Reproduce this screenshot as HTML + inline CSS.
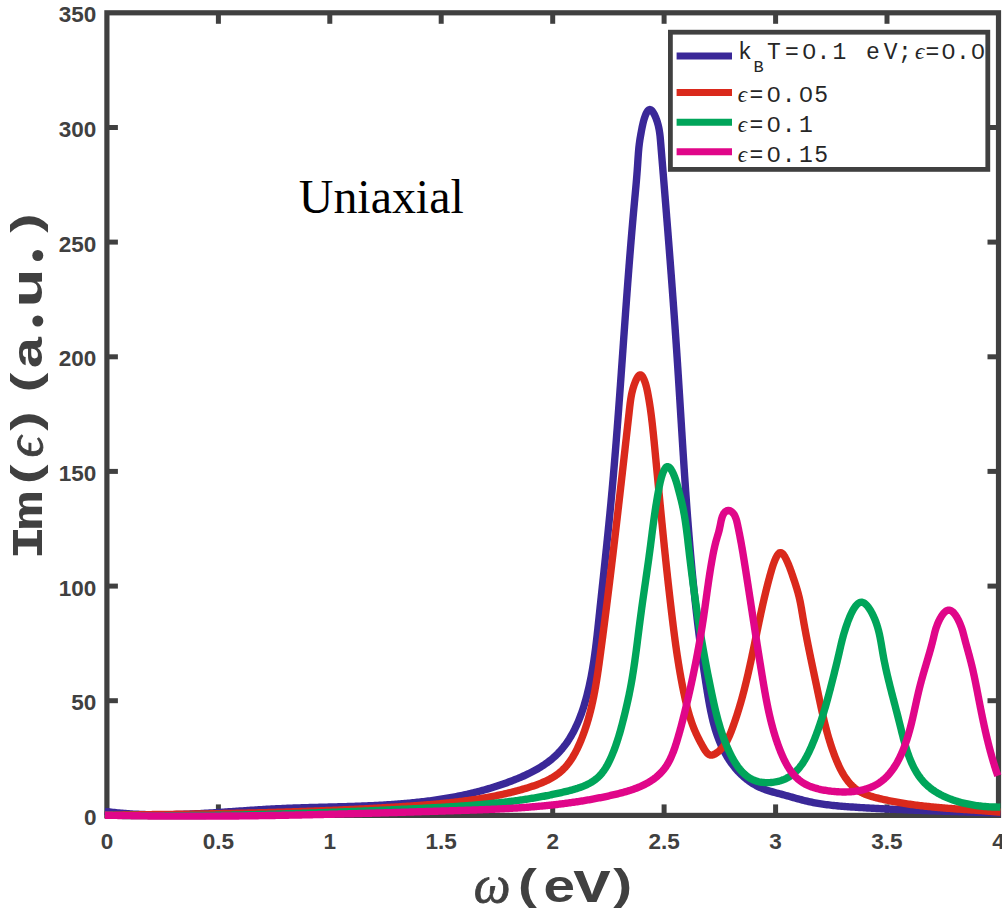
<!DOCTYPE html>
<html><head><meta charset="utf-8"><title>Uniaxial</title>
<style>
html,body{margin:0;padding:0;background:#fff;}
body{width:1002px;height:916px;overflow:hidden;}
svg{display:block;}
.tk{font-family:"Liberation Sans",sans-serif;font-weight:bold;font-size:22.5px;fill:#404040;}
.lb{font-family:"Liberation Mono",monospace;font-weight:bold;font-size:45.5px;fill:#404040;}
.lg{font-family:"Liberation Mono",monospace;font-size:23px;fill:#262626;}
.ep{font-family:"Liberation Serif",serif;font-style:italic;}
</style></head><body>
<svg width="1002" height="916" viewBox="0 0 1002 916">
<rect x="0" y="0" width="1002" height="916" fill="#ffffff"/>

<g stroke="#404040" stroke-width="5.0" fill="none" stroke-linecap="butt">
<rect x="106.9" y="12.8" width="891.6" height="802.6" stroke-width="5.2"/>
<line x1="218.4" y1="815.4" x2="218.4" y2="804.4"/>
<line x1="218.4" y1="12.8" x2="218.4" y2="23.8"/>
<line x1="329.8" y1="815.4" x2="329.8" y2="804.4"/>
<line x1="329.8" y1="12.8" x2="329.8" y2="23.8"/>
<line x1="441.2" y1="815.4" x2="441.2" y2="804.4"/>
<line x1="441.2" y1="12.8" x2="441.2" y2="23.8"/>
<line x1="552.7" y1="815.4" x2="552.7" y2="804.4"/>
<line x1="552.7" y1="12.8" x2="552.7" y2="23.8"/>
<line x1="664.1" y1="815.4" x2="664.1" y2="804.4"/>
<line x1="664.1" y1="12.8" x2="664.1" y2="23.8"/>
<line x1="775.6" y1="815.4" x2="775.6" y2="804.4"/>
<line x1="775.6" y1="12.8" x2="775.6" y2="23.8"/>
<line x1="887.0" y1="815.4" x2="887.0" y2="804.4"/>
<line x1="887.0" y1="12.8" x2="887.0" y2="23.8"/>
<line x1="106.9" y1="700.7" x2="117.9" y2="700.7"/>
<line x1="998.5" y1="700.7" x2="987.5" y2="700.7"/>
<line x1="106.9" y1="586.1" x2="117.9" y2="586.1"/>
<line x1="998.5" y1="586.1" x2="987.5" y2="586.1"/>
<line x1="106.9" y1="471.4" x2="117.9" y2="471.4"/>
<line x1="998.5" y1="471.4" x2="987.5" y2="471.4"/>
<line x1="106.9" y1="356.8" x2="117.9" y2="356.8"/>
<line x1="998.5" y1="356.8" x2="987.5" y2="356.8"/>
<line x1="106.9" y1="242.1" x2="117.9" y2="242.1"/>
<line x1="998.5" y1="242.1" x2="987.5" y2="242.1"/>
<line x1="106.9" y1="127.5" x2="117.9" y2="127.5"/>
<line x1="998.5" y1="127.5" x2="987.5" y2="127.5"/>
</g>
<g fill="none" stroke-width="7.4" stroke-linejoin="round" stroke-linecap="butt">
<path stroke="#3a2898" d="M104.74 811.37 L106.34 811.58 L107.94 811.79 L109.54 811.98 L111.14 812.17 L112.73 812.35 L114.33 812.53 L115.93 812.69 L117.53 812.85 L119.12 813.00 L120.72 813.15 L122.32 813.29 L123.91 813.42 L125.50 813.54 L127.10 813.66 L128.69 813.77 L130.29 813.88 L131.88 813.97 L133.47 814.07 L135.06 814.15 L136.66 814.23 L138.25 814.31 L139.84 814.38 L141.43 814.44 L143.02 814.50 L144.61 814.55 L146.20 814.59 L147.79 814.63 L149.37 814.67 L150.96 814.70 L152.55 814.72 L154.14 814.74 L155.73 814.76 L157.31 814.77 L158.90 814.77 L160.49 814.77 L162.07 814.77 L163.66 814.76 L165.24 814.75 L166.83 814.73 L168.41 814.71 L170.00 814.69 L171.58 814.66 L173.17 814.63 L174.75 814.59 L176.34 814.55 L177.92 814.51 L179.51 814.46 L181.09 814.41 L182.67 814.36 L184.26 814.30 L185.84 814.24 L187.42 814.18 L189.00 814.11 L190.59 814.04 L192.17 813.97 L193.75 813.90 L195.34 813.82 L196.92 813.74 L198.50 813.66 L200.08 813.57 L201.66 813.49 L203.25 813.40 L204.83 813.31 L206.41 813.22 L207.99 813.13 L209.57 813.03 L211.16 812.93 L212.74 812.84 L214.32 812.74 L215.90 812.64 L217.48 812.53 L219.07 812.43 L220.65 812.33 L222.23 812.22 L223.81 812.12 L225.40 812.01 L226.98 811.90 L228.56 811.80 L230.14 811.69 L231.73 811.58 L233.31 811.47 L234.89 811.36 L236.47 811.25 L238.06 811.14 L239.64 811.04 L241.22 810.93 L242.81 810.82 L244.39 810.71 L245.98 810.61 L247.56 810.50 L249.14 810.39 L250.73 810.29 L252.31 810.18 L253.90 810.08 L255.48 809.98 L257.07 809.88 L258.66 809.78 L260.24 809.68 L261.83 809.58 L263.41 809.49 L265.00 809.40 L266.59 809.31 L268.18 809.22 L269.76 809.13 L271.35 809.04 L272.94 808.96 L274.53 808.88 L276.12 808.80 L277.71 808.72 L279.30 808.65 L280.89 808.58 L282.48 808.51 L284.07 808.44 L285.66 808.37 L287.25 808.31 L288.84 808.25 L290.43 808.19 L292.03 808.13 L293.62 808.07 L295.21 808.01 L296.80 807.96 L298.40 807.91 L299.99 807.86 L301.58 807.81 L303.17 807.76 L304.77 807.71 L306.36 807.66 L307.95 807.61 L309.55 807.57 L311.14 807.53 L312.74 807.48 L314.33 807.44 L315.92 807.40 L317.52 807.35 L319.11 807.31 L320.70 807.27 L322.30 807.23 L323.89 807.19 L325.49 807.15 L327.08 807.11 L328.67 807.06 L330.27 807.02 L331.86 806.98 L333.45 806.94 L335.05 806.90 L336.64 806.85 L338.23 806.81 L339.82 806.77 L341.42 806.72 L343.01 806.68 L344.60 806.63 L346.19 806.59 L347.79 806.54 L349.38 806.49 L350.97 806.44 L352.56 806.39 L354.15 806.33 L355.74 806.28 L357.33 806.23 L358.92 806.17 L360.51 806.11 L362.10 806.05 L363.69 805.99 L365.28 805.92 L366.86 805.86 L368.45 805.79 L370.04 805.72 L371.63 805.65 L373.21 805.58 L374.80 805.50 L376.38 805.42 L377.97 805.34 L379.55 805.26 L381.14 805.17 L382.72 805.08 L384.30 804.99 L385.89 804.89 L387.47 804.80 L389.05 804.70 L390.63 804.59 L392.21 804.49 L393.79 804.38 L395.37 804.27 L396.95 804.15 L398.52 804.03 L400.10 803.91 L401.68 803.78 L403.25 803.65 L404.83 803.52 L406.40 803.38 L407.98 803.24 L409.55 803.09 L411.12 802.94 L412.69 802.79 L414.26 802.63 L415.84 802.47 L417.40 802.30 L418.97 802.13 L420.54 801.96 L422.11 801.78 L423.68 801.59 L425.24 801.40 L426.81 801.21 L428.37 801.01 L429.93 800.81 L431.50 800.60 L433.06 800.38 L434.62 800.16 L436.18 799.94 L437.74 799.71 L439.30 799.48 L440.86 799.23 L442.42 798.99 L443.97 798.74 L445.53 798.48 L447.08 798.22 L448.64 797.95 L450.19 797.67 L451.74 797.39 L453.29 797.11 L454.84 796.81 L456.39 796.51 L457.94 796.21 L459.49 795.90 L461.04 795.58 L462.58 795.25 L464.13 794.92 L465.67 794.58 L467.22 794.24 L468.76 793.89 L470.30 793.53 L471.84 793.16 L473.38 792.79 L474.92 792.41 L476.46 792.02 L477.99 791.63 L479.53 791.23 L481.06 790.82 L482.60 790.40 L484.13 789.98 L485.66 789.55 L487.19 789.11 L488.72 788.66 L490.25 788.20 L491.78 787.74 L493.31 787.27 L494.83 786.79 L496.36 786.30 L497.88 785.81 L499.40 785.30 L500.92 784.79 L502.44 784.27 L503.96 783.74 L505.48 783.20 L507.00 782.65 L508.51 782.10 L510.03 781.53 L511.54 780.96 L513.05 780.38 L514.56 779.78 L516.07 779.18 L517.57 778.57 L519.07 777.95 L520.57 777.31 L522.06 776.66 L523.54 776.01 L525.01 775.34 L526.48 774.65 L527.94 773.96 L529.39 773.25 L530.84 772.53 L532.27 771.79 L533.69 771.04 L535.10 770.27 L536.50 769.49 L537.88 768.69 L539.25 767.88 L540.61 767.05 L541.96 766.21 L543.28 765.35 L544.60 764.47 L545.89 763.57 L547.17 762.65 L548.43 761.72 L549.68 760.77 L550.90 759.80 L552.11 758.81 L553.29 757.80 L554.45 756.76 L555.59 755.71 L556.71 754.64 L557.81 753.55 L558.88 752.43 L559.94 751.30 L560.96 750.14 L561.97 748.97 L562.96 747.77 L563.92 746.56 L564.87 745.33 L565.79 744.08 L566.70 742.82 L567.58 741.54 L568.44 740.24 L569.29 738.93 L570.11 737.60 L570.92 736.25 L571.71 734.90 L572.48 733.53 L573.23 732.14 L573.97 730.74 L574.68 729.33 L575.38 727.91 L576.07 726.48 L576.74 725.03 L577.39 723.58 L578.02 722.12 L578.65 720.64 L579.25 719.16 L579.84 717.67 L580.42 716.17 L580.98 714.66 L581.53 713.15 L582.06 711.63 L582.58 710.10 L583.09 708.57 L583.59 707.03 L584.07 705.49 L584.54 703.94 L585.00 702.39 L585.45 700.84 L585.89 699.28 L586.31 697.72 L586.73 696.16 L587.13 694.60 L587.53 693.03 L587.91 691.47 L588.29 689.91 L588.66 688.34 L589.02 686.78 L589.36 685.21 L589.71 683.65 L590.04 682.09 L590.36 680.52 L590.68 678.96 L590.99 677.39 L591.29 675.83 L591.58 674.26 L591.87 672.70 L592.15 671.13 L592.42 669.57 L592.68 668.00 L592.94 666.44 L593.20 664.87 L593.45 663.30 L593.69 661.74 L593.92 660.17 L594.16 658.60 L594.38 657.04 L594.60 655.47 L594.82 653.90 L595.03 652.34 L595.24 650.77 L595.45 649.20 L595.65 647.63 L595.84 646.06 L596.04 644.49 L596.23 642.93 L596.41 641.36 L596.60 639.79 L596.78 638.22 L596.96 636.65 L597.14 635.08 L597.31 633.51 L597.48 631.94 L597.66 630.37 L597.83 628.80 L598.00 627.22 L598.16 625.65 L598.33 624.08 L598.50 622.51 L598.66 620.94 L598.83 619.36 L599.00 617.79 L599.17 616.22 L599.33 614.64 L599.50 613.07 L599.67 611.49 L599.84 609.92 L600.00 608.34 L600.17 606.77 L600.34 605.19 L600.51 603.62 L600.68 602.04 L600.85 600.47 L601.01 598.89 L601.18 597.31 L601.35 595.74 L601.52 594.16 L601.69 592.58 L601.86 591.00 L602.03 589.43 L602.20 587.85 L602.37 586.27 L602.54 584.69 L602.71 583.11 L602.87 581.53 L603.04 579.95 L603.21 578.37 L603.38 576.79 L603.55 575.21 L603.72 573.63 L603.89 572.05 L604.06 570.47 L604.22 568.89 L604.39 567.31 L604.56 565.73 L604.73 564.15 L604.89 562.57 L605.06 560.98 L605.23 559.40 L605.40 557.82 L605.56 556.24 L605.73 554.66 L605.89 553.07 L606.06 551.49 L606.22 549.91 L606.39 548.33 L606.55 546.74 L606.72 545.16 L606.88 543.58 L607.04 541.99 L607.21 540.41 L607.37 538.83 L607.53 537.24 L607.69 535.66 L607.85 534.08 L608.02 532.49 L608.18 530.91 L608.33 529.33 L608.49 527.74 L608.65 526.16 L608.81 524.57 L608.97 522.99 L609.12 521.41 L609.28 519.82 L609.44 518.24 L609.59 516.65 L609.75 515.07 L609.90 513.48 L610.05 511.90 L610.20 510.31 L610.36 508.73 L610.51 507.15 L610.66 505.56 L610.81 503.98 L610.96 502.39 L611.10 500.81 L611.25 499.22 L611.40 497.64 L611.54 496.05 L611.69 494.47 L611.83 492.89 L611.98 491.30 L612.12 489.72 L612.26 488.13 L612.40 486.55 L612.54 484.96 L612.68 483.38 L612.82 481.79 L612.96 480.21 L613.10 478.62 L613.24 477.04 L613.38 475.46 L613.51 473.87 L613.65 472.29 L613.78 470.70 L613.92 469.12 L614.05 467.53 L614.18 465.95 L614.32 464.36 L614.45 462.78 L614.58 461.19 L614.71 459.61 L614.84 458.03 L614.97 456.44 L615.10 454.86 L615.23 453.27 L615.36 451.69 L615.49 450.10 L615.62 448.52 L615.74 446.93 L615.87 445.35 L616.00 443.77 L616.12 442.18 L616.25 440.60 L616.37 439.01 L616.49 437.43 L616.62 435.84 L616.74 434.26 L616.87 432.67 L616.99 431.09 L617.11 429.51 L617.23 427.92 L617.35 426.34 L617.47 424.75 L617.59 423.17 L617.72 421.58 L617.84 420.00 L617.95 418.41 L618.07 416.83 L618.19 415.25 L618.31 413.66 L618.43 412.08 L618.55 410.49 L618.67 408.91 L618.78 407.32 L618.90 405.74 L619.02 404.15 L619.13 402.57 L619.25 400.99 L619.37 399.40 L619.48 397.82 L619.60 396.23 L619.71 394.65 L619.83 393.06 L619.94 391.48 L620.06 389.90 L620.17 388.31 L620.29 386.73 L620.40 385.14 L620.51 383.56 L620.63 381.97 L620.74 380.39 L620.86 378.81 L620.97 377.22 L621.08 375.64 L621.20 374.05 L621.31 372.47 L621.42 370.88 L621.53 369.30 L621.65 367.72 L621.76 366.13 L621.87 364.55 L621.98 362.96 L622.10 361.38 L622.21 359.79 L622.32 358.21 L622.43 356.63 L622.55 355.04 L622.66 353.46 L622.77 351.87 L622.88 350.29 L623.00 348.71 L623.11 347.12 L623.22 345.54 L623.33 343.95 L623.44 342.37 L623.56 340.79 L623.67 339.20 L623.78 337.62 L623.89 336.03 L624.01 334.45 L624.12 332.87 L624.23 331.28 L624.34 329.70 L624.46 328.11 L624.57 326.53 L624.68 324.95 L624.80 323.36 L624.91 321.78 L625.02 320.19 L625.14 318.61 L625.25 317.03 L625.37 315.44 L625.48 313.86 L625.59 312.27 L625.71 310.69 L625.82 309.11 L625.94 307.52 L626.05 305.94 L626.17 304.36 L626.29 302.77 L626.40 301.19 L626.52 299.60 L626.63 298.02 L626.75 296.44 L626.87 294.85 L626.99 293.27 L627.10 291.69 L627.22 290.10 L627.34 288.52 L627.46 286.93 L627.58 285.35 L627.70 283.77 L627.81 282.18 L627.93 280.60 L628.05 279.02 L628.17 277.43 L628.30 275.85 L628.42 274.27 L628.54 272.68 L628.66 271.10 L628.78 269.52 L628.91 267.93 L629.03 266.35 L629.15 264.77 L629.28 263.18 L629.40 261.60 L629.53 260.02 L629.65 258.43 L629.78 256.85 L629.90 255.27 L630.03 253.68 L630.16 252.10 L630.29 250.52 L630.41 248.93 L630.54 247.35 L630.67 245.77 L630.80 244.18 L630.93 242.60 L631.06 241.02 L631.19 239.43 L631.33 237.85 L631.46 236.27 L631.59 234.68 L631.72 233.10 L631.86 231.52 L631.99 229.93 L632.13 228.35 L632.27 226.77 L632.40 225.18 L632.54 223.60 L632.68 222.02 L632.82 220.44 L632.96 218.85 L633.09 217.27 L633.24 215.69 L633.38 214.10 L633.52 212.52 L633.66 210.94 L633.80 209.36 L633.95 207.77 L634.09 206.19 L634.24 204.61 L634.38 203.02 L634.53 201.44 L634.68 199.86 L634.82 198.27 L634.97 196.69 L635.12 195.11 L635.26 193.52 L635.41 191.94 L635.55 190.35 L635.70 188.76 L635.84 187.17 L635.98 185.58 L636.12 183.99 L636.26 182.40 L636.40 180.81 L636.53 179.21 L636.66 177.62 L636.79 176.02 L636.92 174.42 L637.04 172.81 L637.16 171.21 L637.28 169.60 L637.39 167.99 L637.50 166.38 L637.61 164.77 L637.72 163.16 L637.82 161.55 L637.92 159.94 L638.03 158.33 L638.14 156.73 L638.25 155.14 L638.37 153.56 L638.49 151.99 L638.62 150.44 L638.76 148.90 L638.91 147.37 L639.08 145.86 L639.25 144.37 L639.44 142.90 L639.64 141.45 L639.85 140.01 L640.08 138.56 L640.33 137.08 L640.60 135.57 L640.88 134.01 L641.18 132.38 L641.49 130.68 L641.83 128.89 L642.19 127.05 L642.59 125.17 L643.02 123.27 L643.49 121.37 L644.01 119.50 L644.58 117.66 L645.21 115.88 L645.89 114.22 L646.62 112.71 L647.39 111.43 L648.20 110.44 L649.04 109.80 L649.90 109.56 L650.78 109.78 L651.66 110.43 L652.53 111.43 L653.39 112.72 L654.21 114.22 L654.99 115.85 L655.72 117.56 L656.37 119.27 L656.96 120.96 L657.49 122.64 L657.96 124.30 L658.38 125.96 L658.74 127.59 L659.07 129.22 L659.35 130.84 L659.60 132.45 L659.81 134.06 L660.01 135.65 L660.18 137.25 L660.33 138.83 L660.47 140.42 L660.60 142.00 L660.73 143.59 L660.86 145.17 L660.99 146.75 L661.12 148.33 L661.25 149.92 L661.38 151.50 L661.51 153.08 L661.64 154.66 L661.77 156.25 L661.90 157.83 L662.03 159.41 L662.16 161.00 L662.29 162.58 L662.42 164.16 L662.55 165.75 L662.68 167.33 L662.81 168.91 L662.94 170.50 L663.07 172.08 L663.20 173.66 L663.33 175.25 L663.45 176.83 L663.58 178.41 L663.71 180.00 L663.84 181.58 L663.97 183.16 L664.10 184.75 L664.23 186.33 L664.36 187.91 L664.48 189.50 L664.61 191.08 L664.74 192.67 L664.87 194.25 L665.00 195.83 L665.13 197.42 L665.25 199.00 L665.38 200.59 L665.51 202.17 L665.64 203.75 L665.76 205.34 L665.89 206.92 L666.02 208.51 L666.15 210.09 L666.27 211.67 L666.40 213.26 L666.53 214.84 L666.65 216.43 L666.78 218.01 L666.91 219.60 L667.03 221.18 L667.16 222.76 L667.28 224.35 L667.41 225.93 L667.54 227.52 L667.66 229.10 L667.79 230.69 L667.91 232.27 L668.04 233.86 L668.16 235.44 L668.29 237.02 L668.41 238.61 L668.53 240.19 L668.66 241.78 L668.78 243.36 L668.91 244.95 L669.03 246.53 L669.15 248.12 L669.28 249.70 L669.40 251.29 L669.52 252.87 L669.65 254.46 L669.77 256.04 L669.89 257.63 L670.01 259.21 L670.14 260.80 L670.26 262.38 L670.38 263.97 L670.50 265.55 L670.62 267.14 L670.74 268.72 L670.86 270.31 L670.98 271.89 L671.10 273.48 L671.23 275.06 L671.35 276.65 L671.46 278.23 L671.58 279.82 L671.70 281.40 L671.82 282.99 L671.94 284.57 L672.06 286.16 L672.18 287.74 L672.30 289.33 L672.41 290.91 L672.53 292.50 L672.65 294.09 L672.77 295.67 L672.88 297.26 L673.00 298.84 L673.12 300.43 L673.23 302.01 L673.35 303.60 L673.46 305.18 L673.58 306.77 L673.69 308.35 L673.81 309.94 L673.92 311.52 L674.04 313.11 L674.15 314.70 L674.26 316.28 L674.38 317.87 L674.49 319.45 L674.60 321.04 L674.72 322.62 L674.83 324.21 L674.94 325.79 L675.05 327.38 L675.16 328.96 L675.27 330.55 L675.38 332.14 L675.49 333.72 L675.60 335.31 L675.71 336.89 L675.82 338.48 L675.93 340.06 L676.04 341.65 L676.15 343.23 L676.26 344.82 L676.36 346.41 L676.47 347.99 L676.58 349.58 L676.69 351.16 L676.79 352.75 L676.90 354.33 L677.00 355.92 L677.11 357.50 L677.21 359.09 L677.32 360.68 L677.42 362.26 L677.53 363.85 L677.63 365.43 L677.73 367.02 L677.84 368.60 L677.94 370.19 L678.04 371.77 L678.14 373.36 L678.25 374.95 L678.35 376.53 L678.45 378.12 L678.55 379.70 L678.65 381.29 L678.75 382.87 L678.85 384.46 L678.95 386.04 L679.05 387.63 L679.15 389.22 L679.25 390.80 L679.35 392.39 L679.45 393.97 L679.55 395.56 L679.65 397.14 L679.75 398.73 L679.85 400.31 L679.95 401.90 L680.05 403.49 L680.14 405.07 L680.24 406.66 L680.34 408.24 L680.44 409.83 L680.54 411.41 L680.64 413.00 L680.74 414.58 L680.83 416.17 L680.93 417.75 L681.03 419.34 L681.13 420.92 L681.23 422.51 L681.33 424.09 L681.43 425.68 L681.52 427.26 L681.62 428.85 L681.72 430.43 L681.82 432.02 L681.92 433.60 L682.02 435.19 L682.12 436.77 L682.22 438.36 L682.32 439.94 L682.42 441.53 L682.52 443.11 L682.62 444.70 L682.72 446.28 L682.82 447.87 L682.92 449.45 L683.02 451.04 L683.12 452.62 L683.22 454.21 L683.33 455.79 L683.43 457.38 L683.53 458.96 L683.63 460.55 L683.74 462.13 L683.84 463.72 L683.94 465.30 L684.05 466.89 L684.15 468.47 L684.26 470.05 L684.36 471.64 L684.47 473.22 L684.57 474.81 L684.68 476.39 L684.79 477.98 L684.89 479.56 L685.00 481.14 L685.11 482.73 L685.22 484.31 L685.33 485.90 L685.43 487.48 L685.54 489.06 L685.65 490.65 L685.77 492.23 L685.88 493.82 L685.99 495.40 L686.10 496.98 L686.21 498.57 L686.33 500.15 L686.44 501.74 L686.55 503.32 L686.67 504.90 L686.79 506.49 L686.90 508.07 L687.02 509.65 L687.14 511.24 L687.25 512.82 L687.37 514.40 L687.49 515.99 L687.61 517.57 L687.73 519.15 L687.85 520.74 L687.98 522.32 L688.10 523.90 L688.22 525.49 L688.35 527.07 L688.47 528.65 L688.60 530.23 L688.72 531.82 L688.85 533.40 L688.98 534.98 L689.11 536.56 L689.24 538.15 L689.37 539.73 L689.50 541.31 L689.63 542.89 L689.76 544.48 L689.90 546.06 L690.03 547.64 L690.17 549.22 L690.30 550.81 L690.44 552.39 L690.58 553.97 L690.72 555.55 L690.86 557.13 L691.00 558.72 L691.14 560.30 L691.28 561.88 L691.43 563.46 L691.57 565.04 L691.72 566.62 L691.86 568.21 L692.01 569.79 L692.16 571.37 L692.31 572.95 L692.46 574.53 L692.61 576.11 L692.77 577.69 L692.92 579.27 L693.08 580.86 L693.23 582.44 L693.39 584.02 L693.55 585.60 L693.71 587.18 L693.87 588.76 L694.03 590.34 L694.19 591.92 L694.36 593.50 L694.52 595.08 L694.69 596.66 L694.85 598.24 L695.02 599.82 L695.19 601.40 L695.36 602.98 L695.54 604.56 L695.71 606.14 L695.88 607.72 L696.06 609.30 L696.24 610.88 L696.42 612.46 L696.60 614.04 L696.78 615.62 L696.96 617.20 L697.14 618.78 L697.33 620.36 L697.52 621.94 L697.70 623.51 L697.89 625.09 L698.08 626.67 L698.28 628.25 L698.47 629.83 L698.66 631.41 L698.86 632.99 L699.06 634.56 L699.26 636.14 L699.46 637.72 L699.66 639.30 L699.86 640.88 L700.07 642.46 L700.28 644.03 L700.48 645.61 L700.69 647.19 L700.90 648.77 L701.12 650.34 L701.33 651.92 L701.55 653.50 L701.76 655.08 L701.98 656.65 L702.20 658.23 L702.42 659.81 L702.65 661.38 L702.87 662.96 L703.10 664.54 L703.33 666.12 L703.56 667.69 L703.79 669.27 L704.02 670.84 L704.26 672.42 L704.50 674.00 L704.73 675.57 L704.97 677.15 L705.22 678.73 L705.46 680.30 L705.70 681.88 L705.95 683.45 L706.20 685.03 L706.45 686.60 L706.70 688.18 L706.96 689.75 L707.21 691.33 L707.47 692.90 L707.73 694.48 L707.99 696.05 L708.26 697.63 L708.53 699.20 L708.80 700.77 L709.08 702.34 L709.36 703.91 L709.65 705.48 L709.95 707.04 L710.25 708.61 L710.56 710.17 L710.88 711.72 L711.21 713.28 L711.54 714.83 L711.89 716.38 L712.24 717.92 L712.61 719.46 L712.99 721.00 L713.38 722.53 L713.78 724.06 L714.19 725.59 L714.62 727.10 L715.06 728.62 L715.51 730.13 L715.99 731.63 L716.47 733.13 L716.97 734.62 L717.49 736.10 L718.03 737.58 L718.58 739.05 L719.15 740.52 L719.74 741.97 L720.35 743.42 L720.97 744.87 L721.62 746.30 L722.29 747.73 L722.98 749.15 L723.69 750.56 L724.43 751.96 L725.18 753.35 L725.96 754.74 L726.77 756.11 L727.59 757.47 L728.44 758.82 L729.31 760.15 L730.20 761.47 L731.12 762.78 L732.05 764.07 L733.01 765.34 L733.99 766.59 L735.00 767.83 L736.02 769.05 L737.07 770.24 L738.14 771.42 L739.23 772.57 L740.35 773.70 L741.48 774.81 L742.64 775.89 L743.82 776.95 L745.02 777.98 L746.24 778.98 L747.48 779.95 L748.75 780.90 L750.04 781.81 L751.35 782.70 L752.67 783.55 L754.03 784.37 L755.40 785.15 L756.79 785.91 L758.20 786.62 L759.64 787.30 L761.10 787.95 L762.57 788.56 L764.06 789.14 L765.57 789.69 L767.09 790.21 L768.63 790.72 L770.17 791.20 L771.72 791.66 L773.28 792.11 L774.85 792.54 L776.41 792.96 L777.98 793.38 L779.55 793.79 L781.12 794.20 L782.68 794.61 L784.24 795.03 L785.79 795.45 L787.33 795.87 L788.87 796.30 L790.40 796.73 L791.93 797.16 L793.45 797.59 L794.97 798.01 L796.49 798.44 L798.01 798.86 L799.53 799.27 L801.05 799.68 L802.56 800.07 L804.08 800.46 L805.61 800.84 L807.13 801.20 L808.66 801.55 L810.20 801.89 L811.74 802.21 L813.28 802.52 L814.83 802.81 L816.38 803.10 L817.93 803.37 L819.49 803.63 L821.05 803.87 L822.61 804.11 L824.18 804.33 L825.75 804.55 L827.32 804.75 L828.90 804.95 L830.48 805.13 L832.06 805.31 L833.64 805.48 L835.22 805.65 L836.81 805.80 L838.40 805.95 L839.98 806.09 L841.57 806.23 L843.16 806.36 L844.76 806.49 L846.35 806.61 L847.94 806.73 L849.53 806.84 L851.13 806.95 L852.72 807.06 L854.32 807.16 L855.91 807.27 L857.50 807.37 L859.10 807.47 L860.69 807.57 L862.28 807.66 L863.87 807.76 L865.46 807.85 L867.05 807.94 L868.65 808.04 L870.24 808.13 L871.83 808.21 L873.42 808.30 L875.01 808.39 L876.59 808.47 L878.18 808.56 L879.77 808.64 L881.36 808.72 L882.95 808.80 L884.54 808.88 L886.13 808.96 L887.71 809.03 L889.30 809.11 L890.89 809.18 L892.47 809.26 L894.06 809.33 L895.65 809.40 L897.23 809.47 L898.82 809.54 L900.41 809.61 L901.99 809.67 L903.58 809.74 L905.16 809.81 L906.75 809.87 L908.34 809.94 L909.92 810.00 L911.51 810.06 L913.09 810.12 L914.68 810.18 L916.26 810.24 L917.85 810.30 L919.43 810.36 L921.02 810.42 L922.60 810.48 L924.19 810.54 L925.77 810.59 L927.36 810.65 L928.94 810.70 L930.53 810.76 L932.11 810.81 L933.70 810.87 L935.28 810.92 L936.87 810.98 L938.45 811.03 L940.04 811.08 L941.62 811.13 L943.21 811.18 L944.80 811.24 L946.38 811.29 L947.97 811.34 L949.55 811.39 L951.14 811.44 L952.73 811.49 L954.31 811.54 L955.90 811.59 L957.49 811.64 L959.07 811.69 L960.66 811.74 L962.25 811.79 L963.83 811.84 L965.42 811.89 L967.01 811.94 L968.60 811.98 L970.19 812.03 L971.78 812.08 L973.36 812.13 L974.95 812.18 L976.54 812.23 L978.13 812.28 L979.72 812.33 L981.31 812.38 L982.90 812.43 L984.49 812.49 L986.09 812.54 L987.68 812.59 L989.27 812.64 L990.86 812.69 L992.45 812.74 L994.05 812.80 L995.64 812.85 L997.23 812.90 L998.83 812.96 L1000.42 813.01"/>
<path stroke="#da291c" d="M104.85 814.96 L106.30 814.95 L107.74 814.94 L109.18 814.93 L110.62 814.92 L112.06 814.91 L113.50 814.90 L114.95 814.89 L116.39 814.88 L117.83 814.87 L119.27 814.85 L120.72 814.84 L122.16 814.83 L123.60 814.82 L125.05 814.81 L126.49 814.80 L127.93 814.79 L129.38 814.77 L130.82 814.76 L132.26 814.75 L133.71 814.74 L135.15 814.73 L136.60 814.71 L138.04 814.70 L139.48 814.69 L140.93 814.67 L142.37 814.66 L143.82 814.65 L145.26 814.63 L146.71 814.62 L148.15 814.61 L149.60 814.59 L151.05 814.58 L152.49 814.56 L153.94 814.55 L155.38 814.54 L156.83 814.52 L158.27 814.51 L159.72 814.49 L161.17 814.47 L162.61 814.46 L164.06 814.44 L165.51 814.43 L166.95 814.41 L168.40 814.39 L169.85 814.38 L171.29 814.36 L172.74 814.34 L174.19 814.32 L175.63 814.31 L177.08 814.29 L178.53 814.27 L179.98 814.25 L181.42 814.23 L182.87 814.21 L184.32 814.20 L185.77 814.18 L187.21 814.16 L188.66 814.14 L190.11 814.12 L191.56 814.10 L193.01 814.07 L194.45 814.05 L195.90 814.03 L197.35 814.01 L198.80 813.99 L200.25 813.97 L201.70 813.94 L203.14 813.92 L204.59 813.90 L206.04 813.87 L207.49 813.85 L208.94 813.83 L210.39 813.80 L211.84 813.78 L213.29 813.75 L214.73 813.73 L216.18 813.70 L217.63 813.68 L219.08 813.65 L220.53 813.62 L221.98 813.60 L223.43 813.57 L224.88 813.54 L226.33 813.51 L227.78 813.48 L229.22 813.46 L230.67 813.43 L232.12 813.40 L233.57 813.37 L235.02 813.34 L236.47 813.31 L237.92 813.28 L239.37 813.25 L240.82 813.21 L242.27 813.18 L243.72 813.15 L245.17 813.12 L246.62 813.08 L248.07 813.05 L249.51 813.02 L250.96 812.98 L252.41 812.95 L253.86 812.91 L255.31 812.88 L256.76 812.84 L258.21 812.80 L259.66 812.77 L261.11 812.73 L262.56 812.69 L264.01 812.65 L265.46 812.62 L266.91 812.58 L268.36 812.54 L269.80 812.50 L271.25 812.46 L272.70 812.42 L274.15 812.38 L275.60 812.33 L277.05 812.29 L278.50 812.25 L279.95 812.21 L281.40 812.16 L282.85 812.12 L284.29 812.08 L285.74 812.03 L287.19 811.99 L288.64 811.94 L290.09 811.89 L291.54 811.85 L292.99 811.80 L294.43 811.75 L295.88 811.70 L297.33 811.66 L298.78 811.61 L300.23 811.56 L301.68 811.51 L303.12 811.46 L304.57 811.41 L306.02 811.35 L307.47 811.30 L308.92 811.25 L310.36 811.20 L311.81 811.14 L313.26 811.09 L314.71 811.03 L316.15 810.98 L317.60 810.92 L319.05 810.86 L320.50 810.81 L321.94 810.75 L323.39 810.69 L324.84 810.63 L326.28 810.57 L327.73 810.51 L329.18 810.45 L330.63 810.39 L332.07 810.33 L333.52 810.27 L334.96 810.21 L336.41 810.14 L337.86 810.08 L339.30 810.01 L340.75 809.95 L342.19 809.88 L343.64 809.82 L345.09 809.75 L346.53 809.68 L347.98 809.62 L349.42 809.55 L350.87 809.48 L352.31 809.41 L353.76 809.34 L355.20 809.27 L356.65 809.19 L358.09 809.12 L359.54 809.05 L360.98 808.98 L362.42 808.90 L363.87 808.83 L365.31 808.75 L366.76 808.67 L368.20 808.60 L369.64 808.52 L371.09 808.44 L372.53 808.36 L373.97 808.28 L375.42 808.20 L376.86 808.12 L378.30 808.04 L379.74 807.96 L381.19 807.88 L382.63 807.79 L384.07 807.71 L385.51 807.62 L386.95 807.54 L388.39 807.45 L389.84 807.36 L391.28 807.28 L392.72 807.19 L394.16 807.10 L395.60 807.01 L397.04 806.92 L398.48 806.83 L399.92 806.74 L401.36 806.64 L402.80 806.55 L404.24 806.46 L405.68 806.36 L407.12 806.27 L408.56 806.17 L410.00 806.07 L411.44 805.97 L412.87 805.87 L414.31 805.77 L415.75 805.67 L417.19 805.57 L418.63 805.47 L420.06 805.36 L421.50 805.25 L422.94 805.14 L424.38 805.03 L425.81 804.92 L427.25 804.81 L428.68 804.69 L430.12 804.57 L431.56 804.45 L432.99 804.33 L434.43 804.21 L435.86 804.08 L437.30 803.95 L438.73 803.82 L440.17 803.69 L441.60 803.55 L443.04 803.42 L444.47 803.27 L445.90 803.13 L447.34 802.98 L448.77 802.83 L450.20 802.68 L451.64 802.53 L453.07 802.37 L454.50 802.20 L455.93 802.04 L457.37 801.87 L458.80 801.70 L460.23 801.52 L461.66 801.34 L463.09 801.16 L464.52 800.97 L465.95 800.78 L467.38 800.59 L468.81 800.39 L470.24 800.19 L471.67 799.98 L473.10 799.77 L474.53 799.56 L475.96 799.34 L477.39 799.11 L478.81 798.89 L480.24 798.65 L481.67 798.42 L483.10 798.17 L484.52 797.93 L485.95 797.67 L487.38 797.42 L488.80 797.16 L490.23 796.89 L491.65 796.62 L493.08 796.34 L494.50 796.06 L495.93 795.77 L497.35 795.48 L498.78 795.18 L500.20 794.87 L501.63 794.56 L503.05 794.25 L504.47 793.93 L505.89 793.60 L507.32 793.26 L508.74 792.92 L510.16 792.58 L511.58 792.23 L513.00 791.87 L514.42 791.50 L515.84 791.13 L517.27 790.75 L518.69 790.37 L520.10 789.98 L521.52 789.58 L522.94 789.18 L524.36 788.77 L525.78 788.35 L527.20 787.92 L528.61 787.49 L530.03 787.05 L531.44 786.59 L532.84 786.13 L534.24 785.65 L535.64 785.17 L537.02 784.67 L538.40 784.15 L539.77 783.62 L541.13 783.08 L542.48 782.52 L543.81 781.94 L545.13 781.34 L546.44 780.73 L547.74 780.10 L549.02 779.44 L550.28 778.77 L551.53 778.07 L552.75 777.35 L553.96 776.60 L555.15 775.84 L556.31 775.04 L557.46 774.22 L558.58 773.38 L559.68 772.50 L560.75 771.60 L561.80 770.67 L562.82 769.71 L563.81 768.71 L564.78 767.70 L565.73 766.65 L566.65 765.58 L567.54 764.49 L568.42 763.37 L569.27 762.23 L570.10 761.07 L570.91 759.89 L571.70 758.68 L572.47 757.47 L573.22 756.23 L573.95 754.98 L574.66 753.71 L575.35 752.43 L576.03 751.14 L576.69 749.83 L577.34 748.52 L577.97 747.19 L578.58 745.86 L579.18 744.52 L579.77 743.18 L580.34 741.83 L580.91 740.47 L581.46 739.11 L582.00 737.75 L582.53 736.39 L583.04 735.02 L583.55 733.66 L584.04 732.29 L584.53 730.91 L585.01 729.54 L585.47 728.16 L585.93 726.79 L586.37 725.41 L586.81 724.02 L587.23 722.64 L587.65 721.25 L588.06 719.86 L588.46 718.48 L588.85 717.08 L589.24 715.69 L589.61 714.29 L589.98 712.90 L590.34 711.50 L590.69 710.10 L591.03 708.70 L591.37 707.29 L591.69 705.89 L592.02 704.48 L592.33 703.07 L592.64 701.67 L592.94 700.25 L593.24 698.84 L593.53 697.43 L593.81 696.01 L594.09 694.60 L594.36 693.18 L594.63 691.76 L594.89 690.35 L595.15 688.92 L595.40 687.50 L595.65 686.08 L595.90 684.66 L596.14 683.23 L596.37 681.81 L596.60 680.38 L596.83 678.96 L597.05 677.53 L597.27 676.10 L597.49 674.67 L597.71 673.24 L597.92 671.81 L598.13 670.38 L598.33 668.95 L598.54 667.52 L598.74 666.09 L598.94 664.66 L599.14 663.22 L599.34 661.79 L599.53 660.36 L599.73 658.92 L599.92 657.49 L600.12 656.05 L600.31 654.62 L600.50 653.18 L600.69 651.75 L600.88 650.31 L601.07 648.88 L601.27 647.44 L601.46 646.01 L601.64 644.57 L601.83 643.14 L602.02 641.70 L602.21 640.27 L602.40 638.83 L602.59 637.40 L602.78 635.96 L602.96 634.52 L603.15 633.09 L603.34 631.65 L603.52 630.22 L603.71 628.78 L603.89 627.34 L604.08 625.91 L604.26 624.47 L604.45 623.03 L604.63 621.60 L604.82 620.16 L605.00 618.72 L605.18 617.28 L605.37 615.85 L605.55 614.41 L605.73 612.97 L605.91 611.54 L606.09 610.10 L606.28 608.66 L606.46 607.22 L606.64 605.79 L606.82 604.35 L607.00 602.91 L607.18 601.47 L607.36 600.04 L607.54 598.60 L607.71 597.16 L607.89 595.72 L608.07 594.28 L608.25 592.85 L608.43 591.41 L608.60 589.97 L608.78 588.53 L608.96 587.09 L609.14 585.66 L609.31 584.22 L609.49 582.78 L609.66 581.34 L609.84 579.90 L610.01 578.46 L610.19 577.03 L610.36 575.59 L610.54 574.15 L610.71 572.71 L610.89 571.27 L611.06 569.83 L611.23 568.40 L611.41 566.96 L611.58 565.52 L611.75 564.08 L611.93 562.64 L612.10 561.20 L612.27 559.76 L612.44 558.33 L612.61 556.89 L612.78 555.45 L612.96 554.01 L613.13 552.57 L613.30 551.13 L613.47 549.69 L613.64 548.26 L613.81 546.82 L613.98 545.38 L614.15 543.94 L614.32 542.50 L614.49 541.06 L614.66 539.62 L614.82 538.19 L614.99 536.75 L615.16 535.31 L615.33 533.87 L615.50 532.43 L615.67 530.99 L615.83 529.56 L616.00 528.12 L616.17 526.68 L616.34 525.24 L616.50 523.80 L616.67 522.36 L616.84 520.93 L617.00 519.49 L617.17 518.05 L617.34 516.61 L617.50 515.17 L617.67 513.74 L617.83 512.30 L618.00 510.86 L618.16 509.42 L618.33 507.99 L618.50 506.55 L618.66 505.11 L618.82 503.67 L618.99 502.24 L619.15 500.80 L619.32 499.36 L619.48 497.92 L619.65 496.49 L619.81 495.05 L619.98 493.61 L620.14 492.18 L620.30 490.74 L620.47 489.30 L620.63 487.87 L620.79 486.43 L620.96 484.99 L621.12 483.56 L621.28 482.12 L621.45 480.68 L621.61 479.25 L621.77 477.81 L621.93 476.37 L622.10 474.94 L622.26 473.50 L622.42 472.07 L622.58 470.63 L622.75 469.20 L622.91 467.76 L623.07 466.33 L623.23 464.89 L623.39 463.45 L623.56 462.02 L623.72 460.58 L623.88 459.15 L624.04 457.72 L624.20 456.28 L624.36 454.85 L624.52 453.41 L624.69 451.98 L624.85 450.54 L625.01 449.11 L625.17 447.68 L625.33 446.24 L625.49 444.81 L625.65 443.38 L625.81 441.94 L625.97 440.51 L626.14 439.08 L626.30 437.64 L626.46 436.21 L626.62 434.78 L626.78 433.34 L626.94 431.91 L627.10 430.48 L627.26 429.05 L627.42 427.62 L627.58 426.18 L627.74 424.75 L627.90 423.32 L628.07 421.89 L628.23 420.46 L628.39 419.03 L628.55 417.60 L628.71 416.17 L628.87 414.74 L629.03 413.31 L629.19 411.88 L629.35 410.45 L629.51 409.02 L629.67 407.59 L629.83 406.16 L630.00 404.73 L630.18 403.29 L630.36 401.85 L630.56 400.41 L630.77 398.96 L631.01 397.50 L631.27 396.04 L631.55 394.56 L631.87 393.07 L632.21 391.57 L632.59 390.06 L633.01 388.53 L633.47 386.98 L633.98 385.42 L634.53 383.84 L635.14 382.24 L635.79 380.65 L636.49 379.13 L637.21 377.74 L637.97 376.56 L638.73 375.64 L639.51 375.05 L640.28 374.85 L641.05 375.08 L641.80 375.70 L642.53 376.64 L643.23 377.85 L643.90 379.25 L644.53 380.80 L645.11 382.43 L645.64 384.09 L646.11 385.75 L646.54 387.41 L646.94 389.06 L647.29 390.69 L647.62 392.30 L647.92 393.87 L648.19 395.41 L648.46 396.90 L648.71 398.34 L648.95 399.74 L649.18 401.11 L649.40 402.46 L649.62 403.79 L649.83 405.11 L650.03 406.44 L650.23 407.78 L650.42 409.13 L650.62 410.50 L650.81 411.89 L650.99 413.29 L651.18 414.70 L651.36 416.13 L651.53 417.57 L651.71 419.02 L651.88 420.48 L652.05 421.94 L652.22 423.41 L652.38 424.88 L652.55 426.36 L652.71 427.83 L652.87 429.31 L653.02 430.78 L653.18 432.25 L653.33 433.72 L653.48 435.18 L653.63 436.64 L653.78 438.09 L653.92 439.54 L654.07 440.99 L654.21 442.44 L654.35 443.88 L654.49 445.32 L654.63 446.76 L654.77 448.19 L654.91 449.63 L655.05 451.07 L655.18 452.50 L655.32 453.93 L655.46 455.37 L655.59 456.80 L655.73 458.24 L655.87 459.67 L656.00 461.10 L656.14 462.54 L656.28 463.98 L656.41 465.41 L656.55 466.85 L656.69 468.28 L656.82 469.72 L656.96 471.16 L657.10 472.59 L657.24 474.03 L657.37 475.47 L657.51 476.91 L657.65 478.34 L657.78 479.78 L657.92 481.22 L658.06 482.66 L658.20 484.10 L658.33 485.54 L658.47 486.98 L658.61 488.42 L658.75 489.86 L658.88 491.30 L659.02 492.74 L659.16 494.18 L659.30 495.62 L659.44 497.06 L659.58 498.50 L659.72 499.94 L659.85 501.38 L659.99 502.82 L660.13 504.26 L660.27 505.70 L660.41 507.15 L660.55 508.59 L660.69 510.03 L660.83 511.47 L660.97 512.91 L661.12 514.35 L661.26 515.80 L661.40 517.24 L661.54 518.68 L661.68 520.12 L661.82 521.57 L661.97 523.01 L662.11 524.45 L662.25 525.89 L662.39 527.34 L662.54 528.78 L662.68 530.22 L662.83 531.66 L662.97 533.11 L663.11 534.55 L663.26 535.99 L663.40 537.43 L663.55 538.88 L663.70 540.32 L663.84 541.76 L663.99 543.20 L664.14 544.65 L664.28 546.09 L664.43 547.53 L664.58 548.97 L664.73 550.42 L664.88 551.86 L665.03 553.30 L665.18 554.74 L665.33 556.18 L665.48 557.63 L665.63 559.07 L665.78 560.51 L665.93 561.95 L666.08 563.39 L666.24 564.83 L666.39 566.27 L666.54 567.72 L666.70 569.16 L666.85 570.60 L667.01 572.04 L667.16 573.48 L667.32 574.92 L667.47 576.36 L667.63 577.80 L667.79 579.24 L667.95 580.68 L668.10 582.12 L668.26 583.56 L668.42 585.00 L668.58 586.43 L668.74 587.87 L668.90 589.31 L669.07 590.75 L669.23 592.19 L669.39 593.62 L669.55 595.06 L669.72 596.50 L669.88 597.94 L670.05 599.37 L670.21 600.81 L670.38 602.25 L670.55 603.68 L670.71 605.12 L670.88 606.55 L671.05 607.99 L671.22 609.42 L671.39 610.86 L671.56 612.29 L671.73 613.72 L671.91 615.16 L672.08 616.59 L672.25 618.02 L672.43 619.45 L672.60 620.89 L672.78 622.32 L672.95 623.75 L673.13 625.18 L673.31 626.61 L673.49 628.04 L673.67 629.47 L673.85 630.90 L674.03 632.33 L674.22 633.76 L674.41 635.19 L674.59 636.62 L674.78 638.05 L674.97 639.48 L675.16 640.91 L675.36 642.34 L675.55 643.77 L675.75 645.20 L675.95 646.63 L676.15 648.05 L676.36 649.48 L676.56 650.91 L676.77 652.34 L676.98 653.77 L677.19 655.20 L677.41 656.63 L677.63 658.06 L677.85 659.49 L678.07 660.92 L678.30 662.35 L678.53 663.78 L678.76 665.21 L678.99 666.64 L679.23 668.07 L679.47 669.50 L679.71 670.93 L679.96 672.36 L680.21 673.79 L680.46 675.22 L680.71 676.66 L680.97 678.09 L681.24 679.52 L681.50 680.95 L681.77 682.39 L682.05 683.82 L682.33 685.26 L682.61 686.69 L682.89 688.13 L683.18 689.56 L683.48 691.00 L683.77 692.43 L684.07 693.87 L684.38 695.31 L684.69 696.74 L685.01 698.18 L685.33 699.61 L685.65 701.04 L685.99 702.46 L686.33 703.88 L686.67 705.29 L687.02 706.70 L687.38 708.10 L687.74 709.49 L688.12 710.88 L688.49 712.25 L688.88 713.62 L689.28 714.97 L689.68 716.31 L690.09 717.65 L690.51 718.97 L690.95 720.28 L691.39 721.59 L691.84 722.88 L692.31 724.18 L692.79 725.47 L693.28 726.75 L693.79 728.04 L694.31 729.32 L694.85 730.61 L695.41 731.90 L695.99 733.20 L696.58 734.50 L697.19 735.80 L697.83 737.12 L698.48 738.44 L699.16 739.77 L699.85 741.12 L700.58 742.48 L701.32 743.86 L702.09 745.25 L702.89 746.65 L703.71 748.08 L704.56 749.50 L705.45 750.87 L706.38 752.13 L707.36 753.24 L708.40 754.14 L709.49 754.79 L710.66 755.13 L711.90 755.12 L713.19 754.77 L714.51 754.18 L715.80 753.43 L717.04 752.60 L718.22 751.71 L719.34 750.77 L720.40 749.78 L721.41 748.74 L722.37 747.66 L723.28 746.53 L724.14 745.37 L724.96 744.17 L725.74 742.94 L726.49 741.69 L727.19 740.40 L727.87 739.09 L728.51 737.76 L729.13 736.42 L729.73 735.06 L730.30 733.68 L730.85 732.30 L731.39 730.92 L731.91 729.53 L732.42 728.14 L732.92 726.76 L733.42 725.38 L733.91 724.00 L734.39 722.63 L734.86 721.26 L735.33 719.89 L735.79 718.53 L736.24 717.17 L736.69 715.80 L737.13 714.44 L737.56 713.08 L737.99 711.72 L738.41 710.36 L738.83 709.00 L739.24 707.64 L739.65 706.27 L740.06 704.91 L740.46 703.54 L740.85 702.16 L741.24 700.79 L741.63 699.41 L742.01 698.03 L742.39 696.65 L742.76 695.27 L743.13 693.88 L743.50 692.49 L743.86 691.10 L744.22 689.71 L744.58 688.31 L744.93 686.91 L745.28 685.51 L745.63 684.11 L745.97 682.71 L746.31 681.30 L746.65 679.90 L746.99 678.49 L747.32 677.08 L747.65 675.67 L747.98 674.26 L748.30 672.84 L748.62 671.43 L748.94 670.01 L749.26 668.59 L749.58 667.17 L749.89 665.75 L750.20 664.33 L750.51 662.91 L750.82 661.49 L751.13 660.06 L751.43 658.64 L751.74 657.22 L752.04 655.79 L752.34 654.36 L752.64 652.94 L752.94 651.51 L753.24 650.09 L753.53 648.66 L753.83 647.23 L754.13 645.80 L754.42 644.38 L754.71 642.95 L755.01 641.52 L755.30 640.09 L755.59 638.67 L755.89 637.24 L756.18 635.82 L756.47 634.39 L756.76 632.96 L757.06 631.54 L757.35 630.12 L757.64 628.69 L757.94 627.27 L758.23 625.85 L758.53 624.43 L758.82 623.01 L759.12 621.59 L759.42 620.17 L759.72 618.75 L760.02 617.34 L760.32 615.92 L760.62 614.51 L760.92 613.10 L761.23 611.69 L761.53 610.28 L761.84 608.87 L762.15 607.47 L762.46 606.07 L762.77 604.66 L763.09 603.26 L763.41 601.87 L763.73 600.47 L764.05 599.08 L764.37 597.69 L764.70 596.30 L765.03 594.91 L765.36 593.53 L765.69 592.14 L766.03 590.76 L766.37 589.39 L766.71 588.01 L767.06 586.64 L767.41 585.27 L767.76 583.90 L768.11 582.53 L768.48 581.16 L768.84 579.78 L769.22 578.39 L769.59 576.99 L769.98 575.57 L770.37 574.14 L770.78 572.70 L771.19 571.23 L771.63 569.74 L772.08 568.24 L772.56 566.72 L773.07 565.18 L773.61 563.63 L774.19 562.05 L774.82 560.46 L775.48 558.87 L776.19 557.35 L776.93 555.94 L777.70 554.70 L778.49 553.69 L779.30 552.97 L780.14 552.58 L780.98 552.59 L781.83 552.99 L782.69 553.72 L783.53 554.73 L784.36 555.96 L785.17 557.35 L785.95 558.86 L786.70 560.42 L787.40 561.97 L788.07 563.51 L788.69 565.01 L789.28 566.50 L789.85 567.96 L790.38 569.41 L790.90 570.83 L791.40 572.25 L791.89 573.65 L792.38 575.05 L792.86 576.44 L793.33 577.82 L793.80 579.19 L794.26 580.56 L794.71 581.93 L795.16 583.29 L795.60 584.65 L796.03 586.01 L796.45 587.37 L796.86 588.73 L797.26 590.09 L797.65 591.45 L798.03 592.81 L798.40 594.18 L798.75 595.56 L799.09 596.94 L799.42 598.32 L799.74 599.72 L800.04 601.12 L800.33 602.53 L800.61 603.94 L800.87 605.36 L801.13 606.79 L801.38 608.22 L801.63 609.66 L801.87 611.09 L802.11 612.53 L802.35 613.97 L802.59 615.41 L802.83 616.85 L803.08 618.29 L803.32 619.73 L803.57 621.16 L803.83 622.60 L804.08 624.03 L804.34 625.46 L804.60 626.89 L804.86 628.33 L805.12 629.76 L805.39 631.18 L805.65 632.61 L805.92 634.04 L806.19 635.46 L806.47 636.89 L806.74 638.31 L807.02 639.74 L807.30 641.16 L807.58 642.58 L807.86 644.00 L808.14 645.43 L808.43 646.85 L808.71 648.27 L809.00 649.68 L809.29 651.10 L809.58 652.52 L809.87 653.94 L810.16 655.36 L810.45 656.77 L810.74 658.19 L811.04 659.60 L811.33 661.02 L811.63 662.44 L811.92 663.85 L812.22 665.26 L812.52 666.68 L812.81 668.09 L813.11 669.51 L813.41 670.92 L813.71 672.33 L814.01 673.75 L814.31 675.16 L814.60 676.57 L814.90 677.99 L815.20 679.40 L815.50 680.81 L815.80 682.23 L816.10 683.64 L816.40 685.05 L816.69 686.47 L816.99 687.88 L817.29 689.29 L817.58 690.71 L817.88 692.12 L818.17 693.53 L818.47 694.95 L818.77 696.36 L819.06 697.78 L819.36 699.19 L819.66 700.61 L819.96 702.02 L820.26 703.43 L820.56 704.85 L820.86 706.26 L821.17 707.67 L821.47 709.08 L821.78 710.50 L822.10 711.91 L822.41 713.32 L822.73 714.73 L823.06 716.14 L823.38 717.54 L823.71 718.95 L824.05 720.36 L824.39 721.77 L824.73 723.17 L825.08 724.57 L825.43 725.98 L825.79 727.38 L826.15 728.78 L826.52 730.18 L826.90 731.58 L827.28 732.97 L827.67 734.37 L828.06 735.76 L828.46 737.16 L828.87 738.55 L829.29 739.94 L829.71 741.33 L830.14 742.71 L830.58 744.10 L831.03 745.48 L831.49 746.86 L831.95 748.24 L832.42 749.62 L832.91 751.00 L833.40 752.37 L833.90 753.74 L834.41 755.11 L834.93 756.48 L835.46 757.84 L836.01 759.20 L836.56 760.56 L837.13 761.92 L837.71 763.27 L838.30 764.61 L838.91 765.94 L839.53 767.26 L840.17 768.57 L840.83 769.87 L841.50 771.15 L842.19 772.42 L842.91 773.67 L843.64 774.90 L844.40 776.11 L845.18 777.31 L845.98 778.47 L846.80 779.62 L847.66 780.74 L848.53 781.83 L849.44 782.90 L850.37 783.94 L851.33 784.95 L852.31 785.92 L853.33 786.86 L854.38 787.77 L855.46 788.64 L856.58 789.48 L857.73 790.27 L858.91 791.03 L860.13 791.74 L861.38 792.42 L862.66 793.06 L863.97 793.66 L865.30 794.23 L866.66 794.77 L868.04 795.28 L869.44 795.76 L870.86 796.22 L872.29 796.65 L873.73 797.07 L875.19 797.46 L876.64 797.84 L878.11 798.21 L879.57 798.56 L881.04 798.91 L882.50 799.24 L883.97 799.57 L885.43 799.89 L886.88 800.20 L888.34 800.50 L889.79 800.80 L891.24 801.09 L892.69 801.37 L894.14 801.65 L895.59 801.92 L897.03 802.18 L898.47 802.44 L899.91 802.69 L901.35 802.93 L902.79 803.17 L904.23 803.40 L905.66 803.63 L907.09 803.84 L908.53 804.06 L909.96 804.27 L911.39 804.47 L912.82 804.67 L914.25 804.86 L915.67 805.05 L917.10 805.23 L918.53 805.41 L919.95 805.59 L921.37 805.76 L922.80 805.92 L924.22 806.08 L925.64 806.24 L927.07 806.39 L928.49 806.54 L929.91 806.69 L931.33 806.83 L932.75 806.97 L934.17 807.11 L935.59 807.24 L937.02 807.37 L938.44 807.50 L939.86 807.62 L941.28 807.75 L942.70 807.87 L944.12 807.98 L945.55 808.10 L946.97 808.21 L948.39 808.32 L949.82 808.43 L951.24 808.54 L952.67 808.65 L954.09 808.75 L955.52 808.86 L956.95 808.96 L958.38 809.06 L959.81 809.16 L961.24 809.27 L962.67 809.37 L964.11 809.47 L965.54 809.57 L966.98 809.67 L968.42 809.76 L969.86 809.86 L971.30 809.96 L972.74 810.06 L974.18 810.17 L975.63 810.27 L977.08 810.37 L978.53 810.47 L979.98 810.58 L981.43 810.68 L982.89 810.79 L984.34 810.90 L985.80 811.01 L987.26 811.12 L988.73 811.23 L990.20 811.35 L991.66 811.47 L993.14 811.59 L994.61 811.71 L996.09 811.84 L997.57 811.96 L999.05 812.09 L1000.53 812.23"/>
<path stroke="#00a55a" d="M104.83 815.18 L106.10 815.20 L107.37 815.22 L108.64 815.24 L109.91 815.26 L111.18 815.28 L112.46 815.30 L113.73 815.32 L115.00 815.33 L116.27 815.35 L117.55 815.37 L118.82 815.38 L120.09 815.40 L121.36 815.42 L122.64 815.43 L123.91 815.45 L125.18 815.46 L126.45 815.47 L127.73 815.49 L129.00 815.50 L130.27 815.51 L131.55 815.52 L132.82 815.53 L134.09 815.54 L135.37 815.55 L136.64 815.56 L137.91 815.57 L139.19 815.58 L140.46 815.59 L141.73 815.60 L143.01 815.61 L144.28 815.61 L145.55 815.62 L146.83 815.63 L148.10 815.63 L149.38 815.64 L150.65 815.64 L151.92 815.65 L153.20 815.65 L154.47 815.65 L155.75 815.66 L157.02 815.66 L158.29 815.66 L159.57 815.66 L160.84 815.66 L162.12 815.66 L163.39 815.66 L164.67 815.66 L165.94 815.66 L167.21 815.66 L168.49 815.66 L169.76 815.66 L171.04 815.66 L172.31 815.65 L173.59 815.65 L174.86 815.65 L176.14 815.64 L177.41 815.64 L178.69 815.63 L179.96 815.63 L181.24 815.62 L182.51 815.62 L183.79 815.61 L185.06 815.60 L186.34 815.59 L187.61 815.59 L188.89 815.58 L190.16 815.57 L191.44 815.56 L192.71 815.55 L193.99 815.54 L195.26 815.53 L196.54 815.52 L197.81 815.51 L199.09 815.50 L200.36 815.48 L201.64 815.47 L202.91 815.46 L204.19 815.45 L205.47 815.43 L206.74 815.42 L208.02 815.40 L209.29 815.39 L210.57 815.37 L211.84 815.36 L213.12 815.34 L214.39 815.33 L215.67 815.31 L216.95 815.29 L218.22 815.27 L219.50 815.26 L220.77 815.24 L222.05 815.22 L223.32 815.20 L224.60 815.18 L225.88 815.16 L227.15 815.14 L228.43 815.12 L229.70 815.10 L230.98 815.08 L232.25 815.06 L233.53 815.03 L234.81 815.01 L236.08 814.99 L237.36 814.97 L238.63 814.94 L239.91 814.92 L241.19 814.89 L242.46 814.87 L243.74 814.84 L245.01 814.82 L246.29 814.79 L247.56 814.77 L248.84 814.74 L250.12 814.71 L251.39 814.69 L252.67 814.66 L253.94 814.63 L255.22 814.60 L256.50 814.57 L257.77 814.55 L259.05 814.52 L260.32 814.49 L261.60 814.46 L262.88 814.43 L264.15 814.40 L265.43 814.36 L266.70 814.33 L267.98 814.30 L269.25 814.27 L270.53 814.24 L271.81 814.20 L273.08 814.17 L274.36 814.14 L275.63 814.10 L276.91 814.07 L278.19 814.04 L279.46 814.00 L280.74 813.97 L282.01 813.93 L283.29 813.89 L284.56 813.86 L285.84 813.82 L287.12 813.79 L288.39 813.75 L289.67 813.71 L290.94 813.67 L292.22 813.64 L293.49 813.60 L294.77 813.56 L296.05 813.52 L297.32 813.48 L298.60 813.44 L299.87 813.40 L301.15 813.36 L302.42 813.32 L303.70 813.28 L304.97 813.24 L306.25 813.20 L307.53 813.16 L308.80 813.11 L310.08 813.07 L311.35 813.03 L312.63 812.99 L313.90 812.94 L315.18 812.90 L316.45 812.86 L317.73 812.81 L319.00 812.77 L320.28 812.72 L321.55 812.68 L322.83 812.63 L324.10 812.59 L325.38 812.54 L326.65 812.50 L327.93 812.45 L329.20 812.40 L330.48 812.36 L331.75 812.31 L333.03 812.26 L334.30 812.21 L335.58 812.17 L336.85 812.12 L338.13 812.07 L339.40 812.02 L340.67 811.97 L341.95 811.92 L343.22 811.87 L344.50 811.82 L345.77 811.77 L347.05 811.72 L348.32 811.67 L349.60 811.62 L350.87 811.57 L352.14 811.52 L353.42 811.47 L354.69 811.41 L355.97 811.36 L357.24 811.31 L358.51 811.26 L359.79 811.20 L361.06 811.15 L362.34 811.10 L363.61 811.04 L364.88 810.99 L366.16 810.93 L367.43 810.88 L368.70 810.83 L369.98 810.77 L371.25 810.72 L372.52 810.66 L373.80 810.60 L375.07 810.55 L376.34 810.49 L377.62 810.44 L378.89 810.38 L380.16 810.32 L381.44 810.27 L382.71 810.21 L383.98 810.15 L385.25 810.09 L386.53 810.04 L387.80 809.98 L389.07 809.92 L390.34 809.86 L391.62 809.80 L392.89 809.74 L394.16 809.68 L395.43 809.62 L396.71 809.56 L397.98 809.50 L399.25 809.44 L400.52 809.38 L401.79 809.32 L403.07 809.26 L404.34 809.20 L405.61 809.14 L406.88 809.08 L408.15 809.02 L409.42 808.96 L410.69 808.89 L411.97 808.83 L413.24 808.77 L414.51 808.71 L415.78 808.64 L417.05 808.58 L418.32 808.52 L419.59 808.45 L420.86 808.39 L422.13 808.33 L423.40 808.26 L424.67 808.20 L425.95 808.13 L427.22 808.07 L428.49 808.00 L429.76 807.94 L431.03 807.87 L432.30 807.80 L433.57 807.74 L434.84 807.67 L436.11 807.60 L437.38 807.53 L438.65 807.46 L439.92 807.39 L441.18 807.32 L442.45 807.25 L443.72 807.18 L444.99 807.10 L446.26 807.03 L447.53 806.96 L448.80 806.88 L450.07 806.80 L451.34 806.72 L452.61 806.65 L453.88 806.57 L455.14 806.49 L456.41 806.40 L457.68 806.32 L458.95 806.24 L460.22 806.15 L461.49 806.06 L462.75 805.98 L464.02 805.89 L465.29 805.80 L466.56 805.70 L467.83 805.61 L469.09 805.52 L470.36 805.42 L471.63 805.32 L472.90 805.22 L474.16 805.12 L475.43 805.02 L476.70 804.92 L477.97 804.81 L479.23 804.70 L480.50 804.60 L481.77 804.48 L483.03 804.37 L484.30 804.26 L485.57 804.14 L486.83 804.02 L488.10 803.90 L489.37 803.78 L490.63 803.66 L491.90 803.53 L493.17 803.40 L494.43 803.27 L495.70 803.14 L496.96 803.01 L498.23 802.87 L499.50 802.73 L500.76 802.59 L502.03 802.45 L503.29 802.30 L504.56 802.16 L505.82 802.01 L507.09 801.85 L508.36 801.70 L509.62 801.54 L510.89 801.38 L512.15 801.22 L513.42 801.05 L514.68 800.89 L515.95 800.72 L517.21 800.54 L518.48 800.37 L519.74 800.19 L521.00 800.01 L522.27 799.82 L523.53 799.64 L524.80 799.45 L526.06 799.25 L527.33 799.06 L528.59 798.86 L529.85 798.66 L531.12 798.45 L532.38 798.25 L533.65 798.04 L534.91 797.82 L536.17 797.61 L537.44 797.39 L538.70 797.16 L539.96 796.94 L541.23 796.71 L542.49 796.47 L543.75 796.24 L545.02 796.00 L546.28 795.75 L547.54 795.51 L548.80 795.26 L550.07 795.00 L551.33 794.75 L552.59 794.48 L553.85 794.22 L555.12 793.95 L556.38 793.68 L557.64 793.40 L558.90 793.13 L560.17 792.84 L561.43 792.56 L562.69 792.26 L563.95 791.97 L565.21 791.67 L566.47 791.37 L567.73 791.06 L568.99 790.74 L570.24 790.42 L571.50 790.09 L572.74 789.75 L573.98 789.40 L575.21 789.04 L576.44 788.66 L577.66 788.28 L578.87 787.87 L580.07 787.46 L581.26 787.03 L582.43 786.58 L583.60 786.11 L584.75 785.62 L585.89 785.12 L587.01 784.59 L588.12 784.04 L589.22 783.47 L590.29 782.88 L591.35 782.26 L592.39 781.61 L593.41 780.94 L594.41 780.25 L595.38 779.52 L596.34 778.76 L597.27 777.98 L598.18 777.16 L599.07 776.31 L599.93 775.43 L600.76 774.52 L601.57 773.57 L602.36 772.60 L603.13 771.60 L603.87 770.58 L604.59 769.53 L605.29 768.46 L605.97 767.36 L606.64 766.25 L607.28 765.13 L607.90 763.98 L608.51 762.82 L609.10 761.65 L609.68 760.47 L610.24 759.28 L610.79 758.08 L611.32 756.87 L611.84 755.66 L612.34 754.44 L612.84 753.22 L613.32 752.00 L613.79 750.79 L614.26 749.57 L614.71 748.36 L615.15 747.15 L615.59 745.93 L616.01 744.72 L616.43 743.51 L616.84 742.30 L617.24 741.09 L617.63 739.88 L618.02 738.67 L618.39 737.46 L618.77 736.25 L619.13 735.04 L619.49 733.83 L619.84 732.62 L620.19 731.40 L620.53 730.19 L620.87 728.98 L621.20 727.76 L621.53 726.55 L621.85 725.33 L622.17 724.11 L622.49 722.90 L622.81 721.67 L623.12 720.45 L623.43 719.23 L623.73 718.00 L624.04 716.77 L624.34 715.54 L624.64 714.31 L624.94 713.08 L625.24 711.84 L625.54 710.60 L625.83 709.36 L626.12 708.12 L626.41 706.88 L626.70 705.64 L626.99 704.39 L627.27 703.14 L627.55 701.89 L627.83 700.64 L628.10 699.39 L628.37 698.14 L628.64 696.89 L628.90 695.63 L629.16 694.38 L629.42 693.12 L629.67 691.87 L629.92 690.61 L630.16 689.36 L630.41 688.10 L630.64 686.84 L630.88 685.58 L631.11 684.33 L631.33 683.07 L631.55 681.81 L631.77 680.55 L631.99 679.29 L632.20 678.03 L632.41 676.77 L632.62 675.51 L632.82 674.25 L633.03 672.99 L633.22 671.72 L633.42 670.46 L633.61 669.20 L633.81 667.94 L633.99 666.68 L634.18 665.41 L634.37 664.15 L634.55 662.89 L634.73 661.62 L634.91 660.36 L635.08 659.10 L635.26 657.83 L635.43 656.57 L635.60 655.31 L635.77 654.04 L635.94 652.78 L636.11 651.51 L636.28 650.25 L636.44 648.99 L636.60 647.72 L636.77 646.46 L636.93 645.19 L637.09 643.93 L637.25 642.67 L637.41 641.40 L637.57 640.14 L637.73 638.88 L637.89 637.61 L638.05 636.35 L638.21 635.09 L638.37 633.82 L638.53 632.56 L638.69 631.30 L638.85 630.03 L639.00 628.77 L639.16 627.51 L639.32 626.25 L639.49 624.99 L639.65 623.72 L639.81 622.46 L639.97 621.20 L640.14 619.94 L640.30 618.68 L640.47 617.42 L640.63 616.16 L640.80 614.90 L640.97 613.64 L641.14 612.39 L641.31 611.13 L641.48 609.87 L641.66 608.61 L641.83 607.35 L642.01 606.10 L642.18 604.84 L642.36 603.58 L642.53 602.32 L642.71 601.06 L642.89 599.81 L643.07 598.55 L643.25 597.29 L643.43 596.03 L643.61 594.78 L643.79 593.52 L643.97 592.26 L644.15 591.00 L644.33 589.74 L644.51 588.49 L644.69 587.23 L644.87 585.97 L645.06 584.71 L645.24 583.45 L645.42 582.19 L645.60 580.93 L645.78 579.67 L645.97 578.41 L646.15 577.14 L646.33 575.88 L646.51 574.62 L646.69 573.36 L646.87 572.09 L647.05 570.83 L647.23 569.56 L647.41 568.30 L647.59 567.03 L647.77 565.76 L647.95 564.50 L648.13 563.23 L648.30 561.96 L648.48 560.69 L648.65 559.42 L648.83 558.15 L649.00 556.88 L649.18 555.60 L649.35 554.33 L649.52 553.05 L649.69 551.78 L649.86 550.50 L650.03 549.22 L650.19 547.94 L650.36 546.67 L650.53 545.39 L650.69 544.11 L650.86 542.83 L651.02 541.55 L651.19 540.27 L651.35 538.99 L651.51 537.71 L651.68 536.43 L651.84 535.15 L652.00 533.88 L652.17 532.60 L652.33 531.33 L652.50 530.06 L652.66 528.79 L652.83 527.52 L652.99 526.25 L653.16 524.99 L653.33 523.73 L653.50 522.47 L653.67 521.21 L653.84 519.95 L654.01 518.70 L654.19 517.45 L654.36 516.21 L654.54 514.97 L654.72 513.73 L654.90 512.49 L655.08 511.26 L655.26 510.04 L655.45 508.82 L655.64 507.60 L655.83 506.38 L656.02 505.18 L656.21 503.97 L656.41 502.77 L656.61 501.58 L656.81 500.38 L657.02 499.18 L657.23 497.97 L657.44 496.75 L657.66 495.52 L657.88 494.26 L658.11 492.98 L658.34 491.67 L658.58 490.33 L658.83 488.97 L659.09 487.57 L659.36 486.15 L659.65 484.71 L659.96 483.26 L660.29 481.79 L660.65 480.32 L661.03 478.83 L661.44 477.34 L661.88 475.86 L662.35 474.41 L662.86 473.01 L663.38 471.68 L663.94 470.46 L664.51 469.36 L665.11 468.41 L665.72 467.63 L666.36 467.06 L667.00 466.70 L667.67 466.60 L668.34 466.75 L669.02 467.13 L669.70 467.73 L670.38 468.52 L671.06 469.47 L671.73 470.57 L672.38 471.78 L673.02 473.09 L673.63 474.47 L674.22 475.90 L674.78 477.35 L675.31 478.80 L675.80 480.25 L676.26 481.69 L676.70 483.12 L677.11 484.54 L677.50 485.94 L677.88 487.32 L678.24 488.68 L678.59 490.02 L678.93 491.34 L679.26 492.63 L679.59 493.89 L679.92 495.14 L680.24 496.36 L680.55 497.57 L680.86 498.78 L681.16 499.97 L681.45 501.16 L681.74 502.35 L682.02 503.54 L682.29 504.73 L682.55 505.93 L682.81 507.14 L683.06 508.35 L683.30 509.56 L683.54 510.78 L683.77 512.00 L683.99 513.23 L684.21 514.46 L684.43 515.69 L684.63 516.93 L684.84 518.17 L685.04 519.42 L685.23 520.66 L685.42 521.91 L685.60 523.17 L685.78 524.42 L685.96 525.68 L686.13 526.94 L686.30 528.20 L686.47 529.47 L686.63 530.74 L686.79 532.00 L686.95 533.27 L687.11 534.55 L687.26 535.82 L687.42 537.09 L687.57 538.37 L687.72 539.64 L687.86 540.92 L688.01 542.20 L688.16 543.48 L688.30 544.76 L688.45 546.03 L688.60 547.31 L688.74 548.59 L688.89 549.87 L689.03 551.15 L689.18 552.42 L689.33 553.70 L689.48 554.98 L689.63 556.25 L689.78 557.53 L689.93 558.80 L690.09 560.08 L690.24 561.35 L690.39 562.63 L690.55 563.90 L690.71 565.17 L690.86 566.44 L691.02 567.72 L691.18 568.99 L691.34 570.26 L691.50 571.53 L691.66 572.80 L691.82 574.07 L691.98 575.34 L692.15 576.60 L692.31 577.87 L692.48 579.14 L692.64 580.41 L692.81 581.67 L692.98 582.94 L693.15 584.21 L693.32 585.47 L693.49 586.74 L693.66 588.00 L693.83 589.27 L694.01 590.53 L694.18 591.79 L694.36 593.06 L694.54 594.32 L694.71 595.58 L694.89 596.84 L695.07 598.11 L695.25 599.37 L695.43 600.63 L695.61 601.89 L695.80 603.15 L695.98 604.41 L696.17 605.67 L696.35 606.93 L696.54 608.19 L696.73 609.45 L696.92 610.71 L697.11 611.96 L697.30 613.22 L697.49 614.48 L697.68 615.74 L697.87 616.99 L698.07 618.25 L698.27 619.51 L698.46 620.76 L698.66 622.02 L698.86 623.28 L699.06 624.53 L699.26 625.79 L699.46 627.04 L699.66 628.30 L699.87 629.55 L700.07 630.81 L700.28 632.06 L700.49 633.31 L700.69 634.57 L700.90 635.82 L701.11 637.07 L701.32 638.33 L701.54 639.58 L701.75 640.83 L701.96 642.08 L702.18 643.34 L702.40 644.59 L702.61 645.84 L702.83 647.09 L703.05 648.34 L703.27 649.60 L703.50 650.85 L703.72 652.10 L703.94 653.35 L704.17 654.60 L704.39 655.85 L704.62 657.10 L704.85 658.35 L705.08 659.60 L705.31 660.85 L705.54 662.10 L705.78 663.35 L706.01 664.60 L706.25 665.85 L706.48 667.10 L706.72 668.35 L706.96 669.60 L707.20 670.85 L707.44 672.10 L707.68 673.35 L707.92 674.60 L708.17 675.85 L708.41 677.10 L708.66 678.34 L708.91 679.59 L709.16 680.84 L709.41 682.09 L709.66 683.34 L709.91 684.59 L710.17 685.84 L710.42 687.09 L710.68 688.34 L710.94 689.58 L711.19 690.83 L711.45 692.08 L711.71 693.33 L711.98 694.58 L712.24 695.83 L712.51 697.08 L712.78 698.32 L713.05 699.57 L713.32 700.82 L713.59 702.07 L713.87 703.31 L714.15 704.56 L714.44 705.80 L714.72 707.05 L715.01 708.29 L715.31 709.53 L715.61 710.77 L715.91 712.02 L716.22 713.25 L716.53 714.49 L716.84 715.73 L717.16 716.97 L717.49 718.20 L717.82 719.43 L718.16 720.67 L718.50 721.90 L718.85 723.13 L719.20 724.35 L719.56 725.58 L719.93 726.80 L720.30 728.02 L720.68 729.24 L721.06 730.46 L721.46 731.68 L721.86 732.89 L722.27 734.10 L722.68 735.31 L723.11 736.52 L723.54 737.72 L723.98 738.92 L724.43 740.12 L724.89 741.32 L725.35 742.52 L725.83 743.71 L726.31 744.90 L726.81 746.08 L727.31 747.26 L727.82 748.44 L728.35 749.62 L728.88 750.80 L729.43 751.97 L729.98 753.13 L730.55 754.30 L731.12 755.45 L731.71 756.60 L732.31 757.74 L732.93 758.88 L733.56 760.00 L734.20 761.11 L734.86 762.20 L735.54 763.28 L736.23 764.35 L736.94 765.40 L737.66 766.42 L738.41 767.43 L739.17 768.42 L739.95 769.39 L740.75 770.33 L741.57 771.25 L742.41 772.14 L743.27 773.00 L744.16 773.84 L745.07 774.64 L746.00 775.41 L746.95 776.15 L747.93 776.86 L748.93 777.53 L749.96 778.17 L751.01 778.77 L752.09 779.32 L753.20 779.84 L754.33 780.32 L755.50 780.75 L756.69 781.14 L757.91 781.49 L759.16 781.79 L760.43 782.04 L761.73 782.25 L763.04 782.41 L764.37 782.53 L765.72 782.61 L767.07 782.64 L768.43 782.63 L769.80 782.58 L771.16 782.48 L772.53 782.35 L773.89 782.17 L775.24 781.95 L776.58 781.70 L777.91 781.40 L779.22 781.06 L780.52 780.68 L781.79 780.27 L783.03 779.82 L784.25 779.33 L785.43 778.80 L786.58 778.24 L787.71 777.64 L788.80 777.00 L789.86 776.34 L790.90 775.64 L791.90 774.91 L792.88 774.14 L793.83 773.35 L794.76 772.54 L795.66 771.69 L796.54 770.82 L797.40 769.92 L798.23 769.00 L799.04 768.06 L799.83 767.10 L800.59 766.11 L801.34 765.10 L802.07 764.08 L802.78 763.04 L803.47 761.98 L804.14 760.90 L804.80 759.81 L805.44 758.71 L806.07 757.59 L806.68 756.47 L807.28 755.33 L807.87 754.18 L808.44 753.02 L809.01 751.86 L809.56 750.69 L810.10 749.51 L810.63 748.33 L811.16 747.15 L811.67 745.96 L812.18 744.77 L812.69 743.59 L813.18 742.40 L813.67 741.20 L814.15 740.01 L814.63 738.82 L815.10 737.63 L815.56 736.43 L816.02 735.23 L816.47 734.04 L816.91 732.84 L817.35 731.64 L817.79 730.44 L818.22 729.24 L818.64 728.04 L819.06 726.84 L819.47 725.64 L819.88 724.44 L820.28 723.24 L820.68 722.04 L821.08 720.83 L821.47 719.63 L821.85 718.43 L822.24 717.23 L822.62 716.02 L822.99 714.82 L823.36 713.61 L823.73 712.41 L824.09 711.20 L824.45 709.99 L824.81 708.78 L825.17 707.57 L825.52 706.36 L825.87 705.15 L826.21 703.93 L826.56 702.71 L826.90 701.50 L827.24 700.28 L827.58 699.05 L827.91 697.83 L828.24 696.60 L828.57 695.37 L828.90 694.14 L829.23 692.91 L829.56 691.67 L829.88 690.43 L830.21 689.19 L830.53 687.94 L830.85 686.69 L831.17 685.44 L831.49 684.19 L831.81 682.93 L832.13 681.67 L832.45 680.40 L832.77 679.14 L833.09 677.86 L833.41 676.59 L833.73 675.31 L834.05 674.02 L834.37 672.74 L834.69 671.45 L835.00 670.16 L835.32 668.88 L835.63 667.60 L835.95 666.32 L836.25 665.05 L836.56 663.78 L836.87 662.52 L837.17 661.27 L837.46 660.03 L837.76 658.81 L838.04 657.59 L838.33 656.39 L838.60 655.20 L838.88 654.03 L839.14 652.88 L839.40 651.74 L839.66 650.63 L839.91 649.53 L840.15 648.44 L840.40 647.36 L840.64 646.29 L840.89 645.22 L841.14 644.14 L841.40 643.06 L841.67 641.98 L841.94 640.88 L842.22 639.76 L842.52 638.62 L842.83 637.46 L843.15 636.28 L843.49 635.06 L843.86 633.81 L844.24 632.52 L844.64 631.20 L845.07 629.82 L845.52 628.41 L846.00 626.94 L846.51 625.44 L847.04 623.92 L847.59 622.38 L848.16 620.83 L848.76 619.29 L849.37 617.75 L850.01 616.24 L850.67 614.75 L851.34 613.30 L852.03 611.91 L852.74 610.57 L853.46 609.29 L854.20 608.09 L854.95 606.98 L855.71 605.96 L856.49 605.04 L857.27 604.23 L858.07 603.55 L858.88 603.00 L859.69 602.59 L860.51 602.32 L861.34 602.22 L862.17 602.28 L863.01 602.51 L863.85 602.90 L864.69 603.44 L865.53 604.10 L866.36 604.89 L867.18 605.78 L867.99 606.77 L868.78 607.85 L869.55 608.99 L870.31 610.20 L871.04 611.44 L871.75 612.73 L872.43 614.03 L873.07 615.35 L873.69 616.66 L874.27 617.97 L874.82 619.29 L875.35 620.60 L875.84 621.91 L876.31 623.22 L876.75 624.52 L877.17 625.83 L877.57 627.13 L877.95 628.44 L878.30 629.74 L878.64 631.04 L878.96 632.33 L879.26 633.63 L879.55 634.92 L879.82 636.21 L880.08 637.50 L880.33 638.79 L880.57 640.07 L880.81 641.35 L881.03 642.63 L881.25 643.90 L881.46 645.17 L881.68 646.44 L881.88 647.71 L882.09 648.97 L882.30 650.23 L882.51 651.48 L882.73 652.74 L882.94 653.98 L883.17 655.23 L883.39 656.47 L883.62 657.71 L883.86 658.94 L884.10 660.17 L884.34 661.40 L884.59 662.63 L884.84 663.85 L885.09 665.07 L885.35 666.29 L885.61 667.51 L885.87 668.72 L886.14 669.94 L886.41 671.15 L886.69 672.36 L886.96 673.57 L887.24 674.77 L887.52 675.98 L887.81 677.18 L888.10 678.39 L888.39 679.59 L888.68 680.79 L888.97 681.99 L889.27 683.20 L889.57 684.40 L889.87 685.60 L890.17 686.80 L890.48 688.00 L890.78 689.20 L891.09 690.41 L891.40 691.61 L891.71 692.81 L892.02 694.02 L892.34 695.22 L892.65 696.43 L892.97 697.64 L893.28 698.85 L893.60 700.06 L893.92 701.28 L894.24 702.49 L894.56 703.71 L894.88 704.93 L895.20 706.15 L895.52 707.38 L895.84 708.60 L896.16 709.83 L896.48 711.07 L896.80 712.30 L897.12 713.54 L897.44 714.78 L897.76 716.03 L898.08 717.28 L898.40 718.53 L898.72 719.79 L899.03 721.05 L899.35 722.32 L899.67 723.59 L899.98 724.86 L900.30 726.13 L900.61 727.41 L900.93 728.69 L901.25 729.98 L901.57 731.26 L901.89 732.55 L902.22 733.83 L902.55 735.12 L902.88 736.40 L903.22 737.68 L903.56 738.97 L903.90 740.25 L904.25 741.52 L904.61 742.80 L904.97 744.07 L905.34 745.34 L905.72 746.60 L906.10 747.86 L906.49 749.12 L906.89 750.37 L907.30 751.61 L907.71 752.85 L908.14 754.08 L908.57 755.30 L909.02 756.52 L909.48 757.72 L909.95 758.92 L910.43 760.11 L910.92 761.29 L911.42 762.46 L911.94 763.62 L912.47 764.77 L913.01 765.90 L913.57 767.03 L914.14 768.14 L914.73 769.24 L915.33 770.33 L915.95 771.41 L916.58 772.47 L917.23 773.51 L917.90 774.54 L918.59 775.56 L919.29 776.56 L920.01 777.54 L920.75 778.51 L921.51 779.46 L922.29 780.39 L923.09 781.30 L923.91 782.20 L924.75 783.07 L925.61 783.93 L926.49 784.77 L927.39 785.59 L928.31 786.39 L929.24 787.18 L930.20 787.95 L931.17 788.69 L932.15 789.43 L933.16 790.14 L934.18 790.84 L935.21 791.52 L936.26 792.18 L937.33 792.83 L938.41 793.46 L939.50 794.07 L940.61 794.67 L941.73 795.25 L942.86 795.82 L944.00 796.36 L945.16 796.90 L946.32 797.42 L947.50 797.92 L948.68 798.40 L949.88 798.88 L951.08 799.33 L952.30 799.77 L953.52 800.20 L954.75 800.62 L955.99 801.01 L957.23 801.40 L958.48 801.77 L959.74 802.12 L961.00 802.47 L962.26 802.80 L963.53 803.11 L964.81 803.41 L966.09 803.70 L967.37 803.98 L968.66 804.24 L969.94 804.49 L971.23 804.73 L972.52 804.95 L973.82 805.17 L975.11 805.37 L976.40 805.56 L977.69 805.73 L978.98 805.90 L980.27 806.05 L981.56 806.19 L982.84 806.33 L984.13 806.45 L985.41 806.55 L986.68 806.65 L987.96 806.74 L989.22 806.82 L990.49 806.89 L991.74 806.94 L993.00 806.99 L994.24 807.03 L995.48 807.05 L996.71 807.07 L997.93 807.08 L999.15 807.08 L1000.36 807.07"/>
<path stroke="#e00689" d="M104.81 815.15 L106.01 815.18 L107.22 815.21 L108.42 815.24 L109.63 815.26 L110.83 815.29 L112.04 815.32 L113.24 815.35 L114.45 815.37 L115.66 815.40 L116.86 815.42 L118.07 815.45 L119.27 815.47 L120.48 815.50 L121.68 815.52 L122.89 815.54 L124.09 815.57 L125.30 815.59 L126.51 815.61 L127.71 815.63 L128.92 815.65 L130.12 815.67 L131.33 815.69 L132.53 815.71 L133.74 815.73 L134.95 815.75 L136.15 815.77 L137.36 815.79 L138.56 815.80 L139.77 815.82 L140.97 815.84 L142.18 815.85 L143.39 815.87 L144.59 815.88 L145.80 815.90 L147.00 815.91 L148.21 815.93 L149.41 815.94 L150.62 815.96 L151.83 815.97 L153.03 815.98 L154.24 815.99 L155.44 816.00 L156.65 816.02 L157.86 816.03 L159.06 816.04 L160.27 816.05 L161.47 816.06 L162.68 816.07 L163.89 816.07 L165.09 816.08 L166.30 816.09 L167.50 816.10 L168.71 816.11 L169.92 816.11 L171.12 816.12 L172.33 816.13 L173.53 816.13 L174.74 816.14 L175.95 816.14 L177.15 816.15 L178.36 816.15 L179.57 816.15 L180.77 816.16 L181.98 816.16 L183.18 816.16 L184.39 816.17 L185.60 816.17 L186.80 816.17 L188.01 816.17 L189.21 816.17 L190.42 816.17 L191.63 816.17 L192.83 816.17 L194.04 816.17 L195.25 816.17 L196.45 816.17 L197.66 816.17 L198.87 816.17 L200.07 816.17 L201.28 816.16 L202.48 816.16 L203.69 816.16 L204.90 816.15 L206.10 816.15 L207.31 816.15 L208.52 816.14 L209.72 816.14 L210.93 816.13 L212.13 816.13 L213.34 816.12 L214.55 816.11 L215.75 816.11 L216.96 816.10 L218.17 816.09 L219.37 816.09 L220.58 816.08 L221.79 816.07 L222.99 816.06 L224.20 816.05 L225.41 816.04 L226.61 816.04 L227.82 816.03 L229.02 816.02 L230.23 816.01 L231.44 816.00 L232.64 815.98 L233.85 815.97 L235.06 815.96 L236.26 815.95 L237.47 815.94 L238.68 815.93 L239.88 815.91 L241.09 815.90 L242.30 815.89 L243.50 815.87 L244.71 815.86 L245.91 815.85 L247.12 815.83 L248.33 815.82 L249.53 815.80 L250.74 815.79 L251.95 815.77 L253.15 815.76 L254.36 815.74 L255.57 815.72 L256.77 815.71 L257.98 815.69 L259.19 815.67 L260.39 815.66 L261.60 815.64 L262.81 815.62 L264.01 815.60 L265.22 815.59 L266.43 815.57 L267.63 815.55 L268.84 815.53 L270.04 815.51 L271.25 815.49 L272.46 815.47 L273.66 815.45 L274.87 815.43 L276.08 815.41 L277.28 815.39 L278.49 815.37 L279.70 815.35 L280.90 815.33 L282.11 815.31 L283.32 815.28 L284.52 815.26 L285.73 815.24 L286.93 815.22 L288.14 815.19 L289.35 815.17 L290.55 815.15 L291.76 815.12 L292.97 815.10 L294.17 815.08 L295.38 815.05 L296.59 815.03 L297.79 815.00 L299.00 814.98 L300.21 814.95 L301.41 814.93 L302.62 814.90 L303.82 814.88 L305.03 814.85 L306.24 814.83 L307.44 814.80 L308.65 814.77 L309.86 814.75 L311.06 814.72 L312.27 814.69 L313.48 814.67 L314.68 814.64 L315.89 814.61 L317.09 814.59 L318.30 814.56 L319.51 814.53 L320.71 814.50 L321.92 814.47 L323.13 814.44 L324.33 814.42 L325.54 814.39 L326.74 814.36 L327.95 814.33 L329.16 814.30 L330.36 814.27 L331.57 814.24 L332.78 814.21 L333.98 814.18 L335.19 814.15 L336.39 814.12 L337.60 814.09 L338.81 814.06 L340.01 814.03 L341.22 814.00 L342.43 813.97 L343.63 813.93 L344.84 813.90 L346.04 813.87 L347.25 813.84 L348.46 813.81 L349.66 813.78 L350.87 813.74 L352.07 813.71 L353.28 813.68 L354.49 813.65 L355.69 813.62 L356.90 813.58 L358.10 813.55 L359.31 813.52 L360.52 813.48 L361.72 813.45 L362.93 813.42 L364.13 813.38 L365.34 813.35 L366.55 813.32 L367.75 813.28 L368.96 813.25 L370.16 813.21 L371.37 813.18 L372.57 813.15 L373.78 813.11 L374.99 813.08 L376.19 813.04 L377.40 813.01 L378.60 812.97 L379.81 812.94 L381.02 812.90 L382.22 812.87 L383.43 812.83 L384.63 812.80 L385.84 812.76 L387.04 812.73 L388.25 812.69 L389.45 812.66 L390.66 812.62 L391.87 812.58 L393.07 812.55 L394.28 812.51 L395.48 812.48 L396.69 812.44 L397.89 812.40 L399.10 812.37 L400.30 812.33 L401.51 812.30 L402.72 812.26 L403.92 812.22 L405.13 812.19 L406.33 812.15 L407.54 812.11 L408.74 812.08 L409.95 812.04 L411.15 812.00 L412.36 811.97 L413.56 811.93 L414.77 811.89 L415.97 811.85 L417.18 811.82 L418.38 811.78 L419.59 811.74 L420.79 811.71 L422.00 811.67 L423.20 811.63 L424.41 811.59 L425.62 811.56 L426.82 811.52 L428.03 811.48 L429.23 811.44 L430.44 811.41 L431.64 811.37 L432.85 811.33 L434.05 811.29 L435.25 811.26 L436.46 811.22 L437.66 811.18 L438.87 811.14 L440.07 811.11 L441.28 811.07 L442.48 811.03 L443.69 810.99 L444.89 810.96 L446.10 810.92 L447.30 810.88 L448.51 810.84 L449.71 810.80 L450.92 810.77 L452.12 810.73 L453.33 810.69 L454.53 810.65 L455.73 810.62 L456.94 810.58 L458.14 810.54 L459.35 810.50 L460.55 810.46 L461.76 810.42 L462.96 810.38 L464.17 810.34 L465.37 810.31 L466.57 810.27 L467.78 810.22 L468.98 810.18 L470.19 810.14 L471.39 810.10 L472.59 810.06 L473.80 810.02 L475.00 809.97 L476.21 809.93 L477.41 809.89 L478.61 809.84 L479.82 809.80 L481.02 809.75 L482.23 809.70 L483.43 809.66 L484.63 809.61 L485.84 809.56 L487.04 809.51 L488.24 809.46 L489.45 809.41 L490.65 809.36 L491.85 809.30 L493.06 809.25 L494.26 809.20 L495.46 809.14 L496.67 809.08 L497.87 809.03 L499.07 808.97 L500.28 808.91 L501.48 808.85 L502.68 808.79 L503.88 808.72 L505.09 808.66 L506.29 808.59 L507.49 808.53 L508.69 808.46 L509.90 808.39 L511.10 808.32 L512.30 808.25 L513.50 808.18 L514.71 808.10 L515.91 808.03 L517.11 807.95 L518.31 807.87 L519.51 807.79 L520.72 807.71 L521.92 807.63 L523.12 807.54 L524.32 807.45 L525.52 807.37 L526.72 807.28 L527.93 807.19 L529.13 807.09 L530.33 807.00 L531.53 806.90 L532.73 806.81 L533.93 806.71 L535.13 806.61 L536.33 806.50 L537.53 806.40 L538.74 806.29 L539.94 806.18 L541.14 806.07 L542.34 805.96 L543.54 805.84 L544.74 805.73 L545.94 805.61 L547.14 805.49 L548.34 805.37 L549.54 805.24 L550.74 805.11 L551.94 804.98 L553.14 804.85 L554.34 804.72 L555.54 804.58 L556.74 804.45 L557.93 804.31 L559.13 804.16 L560.33 804.02 L561.53 803.87 L562.73 803.72 L563.93 803.57 L565.13 803.41 L566.33 803.26 L567.53 803.10 L568.72 802.94 L569.92 802.77 L571.12 802.60 L572.32 802.43 L573.52 802.26 L574.71 802.09 L575.91 801.91 L577.11 801.73 L578.31 801.55 L579.50 801.36 L580.70 801.17 L581.90 800.98 L583.10 800.79 L584.29 800.59 L585.49 800.39 L586.69 800.19 L587.88 799.98 L589.08 799.77 L590.28 799.56 L591.47 799.34 L592.67 799.13 L593.86 798.91 L595.06 798.68 L596.26 798.45 L597.45 798.22 L598.65 797.99 L599.84 797.75 L601.04 797.51 L602.23 797.27 L603.43 797.03 L604.62 796.78 L605.82 796.52 L607.01 796.27 L608.21 796.01 L609.40 795.74 L610.60 795.48 L611.79 795.21 L612.98 794.93 L614.18 794.66 L615.37 794.38 L616.56 794.09 L617.75 793.80 L618.94 793.50 L620.13 793.20 L621.31 792.90 L622.49 792.58 L623.67 792.26 L624.84 791.93 L626.01 791.60 L627.18 791.25 L628.34 790.90 L629.49 790.54 L630.64 790.17 L631.78 789.79 L632.92 789.40 L634.05 789.00 L635.18 788.59 L636.29 788.17 L637.40 787.74 L638.50 787.29 L639.59 786.84 L640.68 786.37 L641.75 785.88 L642.81 785.39 L643.87 784.88 L644.91 784.36 L645.95 783.82 L646.97 783.26 L647.98 782.70 L648.98 782.11 L649.97 781.51 L650.94 780.90 L651.90 780.26 L652.85 779.61 L653.79 778.95 L654.71 778.26 L655.62 777.56 L656.51 776.83 L657.38 776.09 L658.25 775.33 L659.09 774.55 L659.92 773.75 L660.74 772.93 L661.53 772.08 L662.31 771.22 L663.07 770.33 L663.82 769.42 L664.54 768.49 L665.25 767.54 L665.93 766.56 L666.60 765.56 L667.25 764.54 L667.88 763.49 L668.49 762.42 L669.08 761.33 L669.65 760.22 L670.21 759.09 L670.75 757.95 L671.27 756.79 L671.78 755.62 L672.27 754.44 L672.75 753.24 L673.22 752.04 L673.67 750.84 L674.11 749.62 L674.54 748.40 L674.96 747.18 L675.37 745.96 L675.76 744.74 L676.15 743.52 L676.53 742.31 L676.91 741.10 L677.27 739.89 L677.63 738.70 L677.98 737.51 L678.33 736.32 L678.67 735.15 L679.00 733.98 L679.33 732.82 L679.66 731.66 L679.98 730.51 L680.30 729.36 L680.61 728.21 L680.91 727.07 L681.22 725.93 L681.52 724.79 L681.82 723.66 L682.11 722.52 L682.41 721.39 L682.70 720.26 L682.99 719.12 L683.27 717.99 L683.56 716.86 L683.85 715.72 L684.13 714.58 L684.41 713.44 L684.69 712.30 L684.98 711.15 L685.26 710.00 L685.54 708.85 L685.82 707.70 L686.09 706.55 L686.37 705.40 L686.65 704.24 L686.92 703.08 L687.20 701.92 L687.47 700.76 L687.74 699.60 L688.01 698.43 L688.28 697.27 L688.55 696.10 L688.82 694.93 L689.09 693.76 L689.36 692.58 L689.62 691.41 L689.88 690.24 L690.15 689.06 L690.41 687.88 L690.67 686.70 L690.93 685.52 L691.19 684.34 L691.45 683.16 L691.70 681.98 L691.96 680.79 L692.21 679.61 L692.46 678.42 L692.72 677.23 L692.97 676.04 L693.22 674.86 L693.46 673.67 L693.71 672.48 L693.96 671.28 L694.20 670.09 L694.44 668.90 L694.68 667.71 L694.92 666.51 L695.16 665.32 L695.40 664.12 L695.64 662.93 L695.87 661.73 L696.11 660.54 L696.34 659.34 L696.57 658.15 L696.80 656.95 L697.03 655.75 L697.25 654.55 L697.48 653.36 L697.70 652.16 L697.92 650.96 L698.14 649.77 L698.36 648.57 L698.58 647.37 L698.80 646.17 L699.01 644.98 L699.22 643.78 L699.44 642.58 L699.65 641.39 L699.85 640.19 L700.06 638.99 L700.27 637.80 L700.47 636.60 L700.67 635.41 L700.87 634.21 L701.07 633.02 L701.27 631.83 L701.46 630.63 L701.66 629.44 L701.85 628.25 L702.04 627.06 L702.23 625.87 L702.42 624.68 L702.60 623.49 L702.78 622.31 L702.97 621.12 L703.15 619.94 L703.32 618.75 L703.50 617.57 L703.68 616.39 L703.85 615.20 L704.02 614.02 L704.19 612.84 L704.36 611.66 L704.53 610.48 L704.69 609.31 L704.86 608.13 L705.02 606.95 L705.18 605.77 L705.35 604.59 L705.51 603.42 L705.67 602.24 L705.83 601.06 L706.00 599.88 L706.16 598.70 L706.32 597.52 L706.48 596.34 L706.64 595.16 L706.81 593.97 L706.97 592.79 L707.13 591.61 L707.30 590.42 L707.46 589.23 L707.63 588.04 L707.80 586.85 L707.97 585.66 L708.14 584.46 L708.31 583.27 L708.48 582.07 L708.65 580.87 L708.83 579.66 L709.01 578.46 L709.19 577.25 L709.37 576.04 L709.56 574.83 L709.74 573.61 L709.93 572.39 L710.13 571.17 L710.32 569.95 L710.52 568.72 L710.72 567.49 L710.92 566.25 L711.13 565.01 L711.34 563.77 L711.55 562.53 L711.77 561.29 L711.99 560.06 L712.21 558.82 L712.44 557.59 L712.67 556.37 L712.90 555.15 L713.13 553.93 L713.37 552.73 L713.62 551.54 L713.86 550.36 L714.11 549.19 L714.36 548.03 L714.62 546.89 L714.88 545.76 L715.14 544.65 L715.41 543.56 L715.68 542.49 L715.95 541.44 L716.23 540.41 L716.51 539.40 L716.79 538.42 L717.08 537.46 L717.37 536.51 L717.66 535.54 L717.96 534.56 L718.26 533.52 L718.57 532.43 L718.89 531.25 L719.21 529.98 L719.53 528.59 L719.86 527.07 L720.20 525.41 L720.55 523.63 L720.92 521.80 L721.32 519.99 L721.77 518.26 L722.27 516.69 L722.83 515.30 L723.43 514.10 L724.08 513.08 L724.77 512.23 L725.49 511.56 L726.24 511.06 L727.00 510.71 L727.79 510.53 L728.57 510.49 L729.37 510.61 L730.15 510.86 L730.93 511.25 L731.69 511.77 L732.43 512.42 L733.13 513.20 L733.81 514.09 L734.44 515.09 L735.03 516.20 L735.56 517.41 L736.04 518.72 L736.47 520.11 L736.85 521.55 L737.19 523.02 L737.52 524.51 L737.83 525.98 L738.13 527.42 L738.43 528.85 L738.71 530.25 L738.99 531.62 L739.26 532.98 L739.53 534.32 L739.79 535.64 L740.04 536.94 L740.28 538.22 L740.52 539.49 L740.75 540.74 L740.98 541.98 L741.20 543.20 L741.42 544.41 L741.63 545.61 L741.84 546.80 L742.05 547.98 L742.25 549.15 L742.45 550.31 L742.64 551.46 L742.84 552.61 L743.03 553.75 L743.21 554.89 L743.40 556.02 L743.58 557.15 L743.77 558.28 L743.95 559.41 L744.13 560.54 L744.31 561.67 L744.49 562.80 L744.67 563.93 L744.85 565.06 L745.03 566.20 L745.21 567.34 L745.39 568.48 L745.57 569.62 L745.75 570.77 L745.93 571.92 L746.11 573.07 L746.29 574.22 L746.47 575.37 L746.65 576.53 L746.83 577.69 L747.01 578.85 L747.19 580.01 L747.37 581.17 L747.56 582.34 L747.74 583.51 L747.92 584.68 L748.10 585.85 L748.28 587.02 L748.46 588.19 L748.64 589.37 L748.82 590.55 L749.01 591.73 L749.19 592.91 L749.37 594.09 L749.55 595.27 L749.73 596.45 L749.92 597.64 L750.10 598.83 L750.28 600.02 L750.47 601.20 L750.65 602.40 L750.83 603.59 L751.01 604.78 L751.20 605.97 L751.38 607.17 L751.56 608.36 L751.75 609.56 L751.93 610.76 L752.12 611.96 L752.30 613.16 L752.48 614.36 L752.67 615.56 L752.85 616.76 L753.04 617.96 L753.22 619.17 L753.41 620.37 L753.59 621.57 L753.78 622.78 L753.96 623.98 L754.15 625.19 L754.34 626.39 L754.52 627.60 L754.71 628.81 L754.90 630.01 L755.08 631.22 L755.27 632.43 L755.46 633.64 L755.64 634.85 L755.83 636.05 L756.02 637.26 L756.21 638.47 L756.40 639.68 L756.59 640.89 L756.77 642.09 L756.96 643.30 L757.15 644.51 L757.34 645.72 L757.53 646.93 L757.72 648.13 L757.91 649.34 L758.10 650.55 L758.29 651.75 L758.48 652.96 L758.67 654.16 L758.87 655.37 L759.06 656.57 L759.25 657.78 L759.44 658.98 L759.63 660.18 L759.83 661.38 L760.02 662.58 L760.21 663.78 L760.41 664.98 L760.60 666.18 L760.79 667.38 L760.99 668.58 L761.18 669.77 L761.38 670.97 L761.57 672.16 L761.77 673.36 L761.96 674.55 L762.16 675.74 L762.36 676.93 L762.55 678.12 L762.75 679.30 L762.95 680.49 L763.15 681.68 L763.34 682.86 L763.54 684.04 L763.74 685.22 L763.94 686.40 L764.14 687.58 L764.35 688.76 L764.55 689.94 L764.75 691.11 L764.96 692.29 L765.17 693.46 L765.38 694.63 L765.59 695.80 L765.81 696.97 L766.02 698.14 L766.24 699.31 L766.46 700.48 L766.68 701.65 L766.91 702.82 L767.14 703.98 L767.37 705.15 L767.61 706.31 L767.85 707.48 L768.09 708.64 L768.33 709.81 L768.58 710.97 L768.83 712.13 L769.09 713.29 L769.35 714.46 L769.62 715.62 L769.88 716.78 L770.16 717.94 L770.44 719.10 L770.72 720.26 L771.01 721.42 L771.30 722.58 L771.60 723.74 L771.90 724.90 L772.21 726.06 L772.52 727.22 L772.84 728.38 L773.16 729.54 L773.49 730.70 L773.83 731.86 L774.17 733.02 L774.52 734.18 L774.88 735.34 L775.24 736.50 L775.61 737.66 L775.98 738.83 L776.36 739.99 L776.75 741.15 L777.15 742.31 L777.55 743.48 L777.96 744.64 L778.38 745.80 L778.81 746.97 L779.24 748.13 L779.68 749.30 L780.14 750.46 L780.60 751.62 L781.07 752.77 L781.55 753.93 L782.04 755.07 L782.54 756.21 L783.05 757.35 L783.57 758.47 L784.11 759.59 L784.65 760.70 L785.21 761.80 L785.78 762.88 L786.37 763.96 L786.97 765.02 L787.58 766.07 L788.21 767.11 L788.85 768.13 L789.50 769.14 L790.18 770.12 L790.86 771.09 L791.57 772.05 L792.29 772.98 L793.02 773.89 L793.78 774.79 L794.55 775.66 L795.34 776.51 L796.15 777.33 L796.97 778.13 L797.82 778.91 L798.68 779.66 L799.57 780.39 L800.47 781.08 L801.40 781.75 L802.35 782.39 L803.31 783.00 L804.30 783.58 L805.31 784.14 L806.33 784.67 L807.37 785.17 L808.43 785.65 L809.51 786.11 L810.60 786.54 L811.70 786.95 L812.82 787.34 L813.95 787.71 L815.10 788.06 L816.26 788.39 L817.43 788.70 L818.61 789.00 L819.80 789.27 L820.99 789.54 L822.20 789.78 L823.42 790.02 L824.64 790.24 L825.86 790.44 L827.10 790.64 L828.34 790.82 L829.58 790.99 L830.83 791.15 L832.08 791.30 L833.33 791.43 L834.59 791.54 L835.85 791.65 L837.11 791.74 L838.37 791.81 L839.63 791.87 L840.89 791.92 L842.15 791.95 L843.41 791.96 L844.67 791.96 L845.93 791.94 L847.18 791.91 L848.43 791.85 L849.68 791.78 L850.92 791.70 L852.16 791.59 L853.40 791.47 L854.62 791.33 L855.85 791.17 L857.06 790.99 L858.27 790.79 L859.47 790.57 L860.66 790.33 L861.84 790.07 L863.01 789.79 L864.18 789.49 L865.33 789.17 L866.47 788.83 L867.60 788.46 L868.72 788.08 L869.83 787.67 L870.92 787.24 L872.01 786.78 L873.07 786.30 L874.12 785.80 L875.16 785.28 L876.18 784.73 L877.19 784.15 L878.18 783.55 L879.15 782.93 L880.11 782.28 L881.04 781.61 L881.96 780.91 L882.86 780.18 L883.75 779.44 L884.62 778.67 L885.47 777.87 L886.30 777.06 L887.12 776.23 L887.92 775.37 L888.71 774.50 L889.48 773.61 L890.23 772.70 L890.97 771.77 L891.70 770.82 L892.40 769.86 L893.10 768.89 L893.78 767.89 L894.44 766.89 L895.10 765.87 L895.73 764.84 L896.36 763.79 L896.97 762.74 L897.56 761.67 L898.15 760.59 L898.72 759.51 L899.28 758.41 L899.82 757.31 L900.36 756.20 L900.88 755.08 L901.39 753.96 L901.89 752.83 L902.38 751.69 L902.85 750.55 L903.32 749.41 L903.77 748.27 L904.21 747.12 L904.65 745.97 L905.07 744.82 L905.48 743.67 L905.89 742.52 L906.28 741.36 L906.67 740.21 L907.04 739.05 L907.41 737.90 L907.77 736.74 L908.12 735.58 L908.47 734.43 L908.81 733.27 L909.14 732.11 L909.46 730.95 L909.78 729.79 L910.09 728.62 L910.40 727.46 L910.70 726.30 L910.99 725.13 L911.29 723.97 L911.57 722.81 L911.85 721.64 L912.13 720.47 L912.41 719.31 L912.68 718.14 L912.95 716.97 L913.21 715.81 L913.48 714.64 L913.74 713.47 L914.00 712.30 L914.26 711.13 L914.51 709.96 L914.77 708.79 L915.02 707.62 L915.28 706.45 L915.53 705.28 L915.79 704.11 L916.04 702.93 L916.30 701.76 L916.56 700.59 L916.82 699.42 L917.08 698.25 L917.34 697.07 L917.61 695.90 L917.88 694.73 L918.15 693.55 L918.42 692.38 L918.70 691.21 L918.98 690.04 L919.27 688.86 L919.56 687.69 L919.85 686.52 L920.15 685.34 L920.46 684.17 L920.77 683.00 L921.08 681.83 L921.40 680.65 L921.72 679.48 L922.04 678.31 L922.37 677.14 L922.71 675.97 L923.04 674.80 L923.38 673.63 L923.72 672.46 L924.06 671.29 L924.40 670.12 L924.74 668.95 L925.09 667.79 L925.43 666.62 L925.78 665.45 L926.13 664.29 L926.47 663.12 L926.82 661.96 L927.16 660.80 L927.51 659.64 L927.85 658.48 L928.19 657.32 L928.53 656.16 L928.87 655.00 L929.21 653.84 L929.54 652.69 L929.87 651.53 L930.20 650.38 L930.52 649.23 L930.84 648.08 L931.15 646.93 L931.46 645.78 L931.77 644.64 L932.07 643.49 L932.37 642.35 L932.66 641.20 L932.94 640.06 L933.22 638.93 L933.50 637.79 L933.77 636.65 L934.03 635.51 L934.31 634.37 L934.59 633.21 L934.89 632.05 L935.21 630.86 L935.56 629.66 L935.94 628.44 L936.35 627.18 L936.81 625.90 L937.31 624.59 L937.85 623.27 L938.43 621.93 L939.05 620.60 L939.71 619.29 L940.40 618.02 L941.12 616.79 L941.86 615.63 L942.63 614.54 L943.42 613.54 L944.22 612.64 L945.05 611.85 L945.88 611.19 L946.72 610.68 L947.57 610.32 L948.42 610.13 L949.27 610.12 L950.12 610.30 L950.96 610.65 L951.80 611.15 L952.62 611.80 L953.44 612.57 L954.24 613.47 L955.02 614.46 L955.78 615.55 L956.52 616.71 L957.23 617.93 L957.92 619.20 L958.57 620.50 L959.20 621.83 L959.79 623.16 L960.34 624.48 L960.85 625.79 L961.32 627.06 L961.75 628.30 L962.14 629.51 L962.51 630.70 L962.85 631.87 L963.17 633.02 L963.48 634.16 L963.78 635.30 L964.07 636.42 L964.36 637.55 L964.65 638.68 L964.95 639.81 L965.25 640.95 L965.55 642.09 L965.86 643.23 L966.18 644.38 L966.49 645.53 L966.81 646.69 L967.13 647.85 L967.45 649.01 L967.77 650.17 L968.09 651.34 L968.41 652.51 L968.73 653.68 L969.05 654.85 L969.37 656.02 L969.68 657.19 L970.00 658.37 L970.30 659.55 L970.61 660.72 L970.91 661.90 L971.21 663.08 L971.50 664.26 L971.78 665.44 L972.07 666.61 L972.34 667.79 L972.62 668.97 L972.89 670.15 L973.16 671.33 L973.42 672.51 L973.68 673.69 L973.93 674.87 L974.19 676.05 L974.44 677.23 L974.69 678.41 L974.93 679.59 L975.18 680.77 L975.42 681.95 L975.66 683.13 L975.89 684.31 L976.13 685.50 L976.36 686.68 L976.60 687.86 L976.83 689.04 L977.06 690.22 L977.29 691.40 L977.52 692.59 L977.75 693.77 L977.97 694.95 L978.20 696.13 L978.43 697.32 L978.66 698.50 L978.89 699.68 L979.12 700.86 L979.35 702.05 L979.58 703.23 L979.81 704.41 L980.04 705.59 L980.27 706.78 L980.51 707.96 L980.74 709.14 L980.98 710.33 L981.22 711.51 L981.46 712.69 L981.69 713.87 L981.94 715.05 L982.18 716.24 L982.42 717.42 L982.67 718.60 L982.91 719.78 L983.16 720.96 L983.41 722.14 L983.66 723.32 L983.92 724.50 L984.17 725.68 L984.43 726.86 L984.69 728.04 L984.95 729.22 L985.21 730.39 L985.48 731.57 L985.75 732.75 L986.02 733.92 L986.29 735.10 L986.57 736.27 L986.84 737.45 L987.12 738.62 L987.41 739.79 L987.69 740.97 L987.98 742.14 L988.27 743.31 L988.56 744.48 L988.86 745.65 L989.16 746.82 L989.46 747.98 L989.77 749.15 L990.08 750.32 L990.39 751.48 L990.71 752.64 L991.03 753.81 L991.35 754.97 L991.67 756.13 L992.00 757.29 L992.34 758.45 L992.67 759.61 L993.01 760.77 L993.36 761.92 L993.70 763.08 L994.06 764.23 L994.41 765.38 L994.77 766.53 L995.14 767.68 L995.50 768.83 L995.88 769.98 L996.25 771.13 L996.63 772.27 L997.02 773.42 L997.41 774.56 L997.80 775.70"/>
</g>

<g class="tk" text-anchor="middle">
<text x="106.9" y="848.8">0</text>
<text x="218.4" y="848.8">0.5</text>
<text x="329.8" y="848.8">1</text>
<text x="441.2" y="848.8">1.5</text>
<text x="552.7" y="848.8">2</text>
<text x="664.1" y="848.8">2.5</text>
<text x="775.6" y="848.8">3</text>
<text x="887.0" y="848.8">3.5</text>
<text x="998.5" y="848.8">4</text>
</g>
<g class="tk" text-anchor="end">
<text x="96.4" y="824.8">0</text>
<text x="96.4" y="710.1">50</text>
<text x="96.4" y="595.5">100</text>
<text x="96.4" y="480.8">150</text>
<text x="96.4" y="366.2">200</text>
<text x="96.4" y="251.5">250</text>
<text x="96.4" y="136.9">300</text>
<text x="96.4" y="22.2">350</text>
</g>
<g class="lb" text-anchor="middle">
<text transform="translate(42.4,542.6) rotate(-90) scale(1.24,0.97)">I</text>
<text transform="translate(42.4,510.5) rotate(-90) scale(1.45,0.93)">m</text>
<text transform="translate(39.6,473.4) rotate(-90) scale(1.30,0.90)">(</text>
<text class="ep" style="font-weight:normal;font-size:52px" stroke="#404040" stroke-width="0.8" transform="translate(42.4,447.0) rotate(-90)">&#1013;</text>
<text transform="translate(39.6,421.9) rotate(-90) scale(1.30,0.90)">)</text>
<text transform="translate(39.6,381.8) rotate(-90) scale(1.30,0.90)">(</text>
<text transform="translate(42.4,352.5) rotate(-90) scale(1.25,0.95)">a</text>
<text transform="translate(42.4,288.0) rotate(-90) scale(1.45,0.95)">u</text>
<text transform="translate(39.6,224.0) rotate(-90) scale(1.30,0.90)">)</text>
</g>
<circle cx="37.8" cy="255.5" r="5.5" fill="#404040"/><circle cx="37.8" cy="321" r="5.5" fill="#404040"/>
<g class="lb" text-anchor="middle">
<text class="ep" style="font-weight:normal;font-size:52px" stroke="#404040" stroke-width="0.8" x="492" y="902">&#969;</text>
<text transform="translate(528.3,898.6) scale(1.25,0.92)">(</text>
<text transform="translate(559.5,902.0) scale(1.20,1.00)">e</text>
<text transform="translate(592.0,902.0) scale(1.35,1.00)">V</text>
<text transform="translate(621.7,898.6) scale(1.25,0.92)">)</text>
</g>
<text x="298.8" y="212.7" style="font-family:'Liberation Serif',serif;font-size:47.9px;fill:#000">Uniaxial</text>
<rect x="670.4" y="32.2" width="317.4" height="137.2" fill="#fff" stroke="#404040" stroke-width="4.8"/>
<line x1="676.6" y1="56.1" x2="732" y2="56.1" stroke="#3a2898" stroke-width="7"/>
<line x1="676.6" y1="92.5" x2="732" y2="92.5" stroke="#da291c" stroke-width="7"/>
<line x1="676.6" y1="122.3" x2="732" y2="122.3" stroke="#00a55a" stroke-width="7"/>
<line x1="676.6" y1="151.7" x2="732" y2="151.7" stroke="#e00689" stroke-width="7"/>
<g class="lg" text-anchor="middle">
<text x="745.0" y="59.3">k</text>
<text x="774.0" y="59.3">T</text>
<text x="792.0" y="59.3">=</text>
<text transform="translate(809.2,59.3) scale(1.1,1.04)" style="font-family:'Liberation Sans',sans-serif;font-size:22px">0</text>
<text x="823.5" y="59.3">.</text>
<text x="839.5" y="59.3">1</text>
<text x="872.8" y="59.3">e</text>
<text x="890.6" y="59.3">V</text>
<text x="905.0" y="59.3">;</text>
<text class="ep" style="font-size:23px" x="919.6" y="59.3">&#1013;</text>
<text x="932.5" y="59.3">=</text>
<text transform="translate(948.6,59.3) scale(1.1,1.04)" style="font-family:'Liberation Sans',sans-serif;font-size:22px">0</text>
<text x="963.0" y="59.3">.</text>
<text transform="translate(978.0,59.3) scale(1.1,1.04)" style="font-family:'Liberation Sans',sans-serif;font-size:22px">0</text>
<text x="758.7" y="72.2" style="font-size:17px">B</text>
<text class="ep" style="font-size:23px" x="742.5" y="101.9">&#1013;</text>
<text x="756.5" y="101.9">=</text>
<text transform="translate(773.8,101.9) scale(1.1,1.04)" style="font-family:'Liberation Sans',sans-serif;font-size:22px">0</text>
<text x="788.7" y="101.9">.</text>
<text transform="translate(805.9,101.9) scale(1.1,1.04)" style="font-family:'Liberation Sans',sans-serif;font-size:22px">0</text>
<text x="821.2" y="101.9">5</text>
<text class="ep" style="font-size:23px" x="742.5" y="131.6">&#1013;</text>
<text x="756.5" y="131.6">=</text>
<text transform="translate(773.8,131.6) scale(1.1,1.04)" style="font-family:'Liberation Sans',sans-serif;font-size:22px">0</text>
<text x="788.7" y="131.6">.</text>
<text x="805.9" y="131.6">1</text>
<text class="ep" style="font-size:23px" x="742.5" y="161.6">&#1013;</text>
<text x="756.5" y="161.6">=</text>
<text transform="translate(773.8,161.6) scale(1.1,1.04)" style="font-family:'Liberation Sans',sans-serif;font-size:22px">0</text>
<text x="788.7" y="161.6">.</text>
<text x="805.9" y="161.6">1</text>
<text x="821.2" y="161.6">5</text>
</g>
</svg></body></html>
